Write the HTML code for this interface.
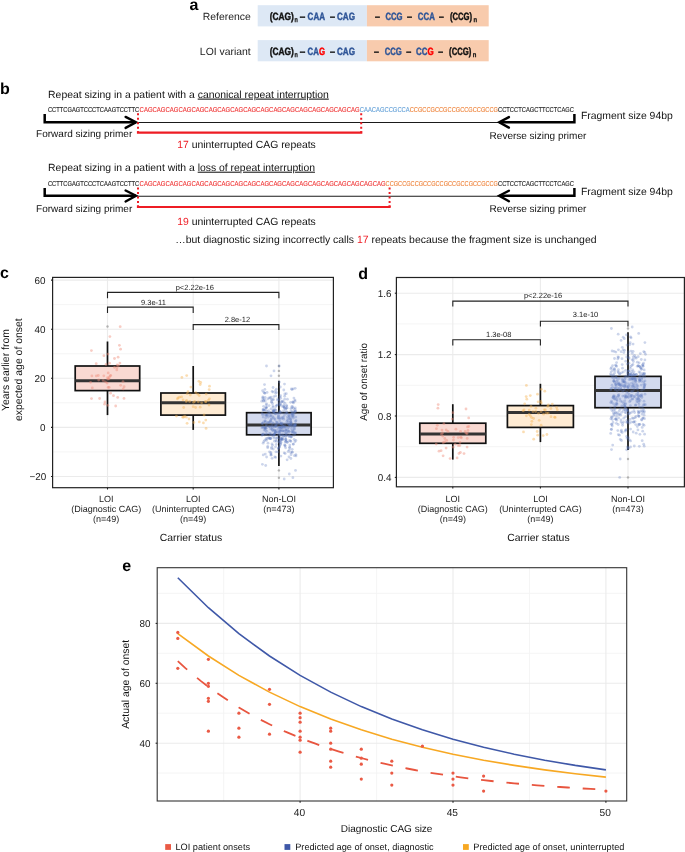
<!DOCTYPE html>
<html><head><meta charset="utf-8"><style>
html,body{margin:0;padding:0;background:#fff;}
svg{display:block;will-change:transform;text-rendering:geometricPrecision;font-family:"Liberation Sans", sans-serif;}
</style></head><body>
<svg width="685" height="852" viewBox="0 0 685 852">
<text x="189.5" y="9.7" font-size="16" fill="#000" text-anchor="start" font-weight="bold">a</text>
<text x="250.7" y="20.0" font-size="10.4" fill="#222" text-anchor="end">Reference</text>
<text x="250.7" y="54.6" font-size="10.4" fill="#222" text-anchor="end">LOI variant</text>
<rect x="257.7" y="5.2" width="109.2" height="21.2" fill="#dde8f5"/>
<rect x="366.9" y="5.2" width="121.8" height="21.2" fill="#f8cbad"/>
<rect x="257.7" y="40.1" width="109.2" height="21.2" fill="#dde8f5"/>
<rect x="366.9" y="40.1" width="121.8" height="21.2" fill="#f8cbad"/>
<text x="269.7" y="20.1" font-size="10.6" fill="#111" text-anchor="start" font-weight="bold" textLength="24.1" lengthAdjust="spacingAndGlyphs" stroke="#111" stroke-width="0.45">(CAG)</text>
<text x="294.6" y="21.900000000000002" font-size="7.0" fill="#111" text-anchor="start" font-weight="bold" textLength="3.3" lengthAdjust="spacingAndGlyphs" stroke="#111" stroke-width="0.25">n</text>
<text x="299.7" y="20.1" font-size="10.6" fill="#111" text-anchor="start" font-weight="bold" textLength="5.5" lengthAdjust="spacingAndGlyphs" stroke="#111" stroke-width="0.45">–</text>
<text x="307.6" y="20.1" font-size="10.6" fill="#2f5597" text-anchor="start" font-weight="bold" textLength="17.4" lengthAdjust="spacingAndGlyphs" stroke="#2f5597" stroke-width="0.45">CAA</text>
<text x="330" y="20.1" font-size="10.6" fill="#111" text-anchor="start" font-weight="bold" textLength="5" lengthAdjust="spacingAndGlyphs" stroke="#111" stroke-width="0.45">–</text>
<text x="337" y="20.1" font-size="10.6" fill="#2f5597" text-anchor="start" font-weight="bold" textLength="18" lengthAdjust="spacingAndGlyphs" stroke="#2f5597" stroke-width="0.45">CAG</text>
<text x="374.9" y="20.1" font-size="10.6" fill="#111" text-anchor="start" font-weight="bold" textLength="4.9" lengthAdjust="spacingAndGlyphs" stroke="#111" stroke-width="0.45">–</text>
<text x="385.5" y="20.1" font-size="10.6" fill="#2f5597" text-anchor="start" font-weight="bold" textLength="17.1" lengthAdjust="spacingAndGlyphs" stroke="#2f5597" stroke-width="0.45">CCG</text>
<text x="407" y="20.1" font-size="10.6" fill="#111" text-anchor="start" font-weight="bold" textLength="5" lengthAdjust="spacingAndGlyphs" stroke="#111" stroke-width="0.45">–</text>
<text x="417.8" y="20.1" font-size="10.6" fill="#2f5597" text-anchor="start" font-weight="bold" textLength="17.0" lengthAdjust="spacingAndGlyphs" stroke="#2f5597" stroke-width="0.45">CCA</text>
<text x="439" y="20.1" font-size="10.6" fill="#111" text-anchor="start" font-weight="bold" textLength="4.8" lengthAdjust="spacingAndGlyphs" stroke="#111" stroke-width="0.45">–</text>
<text x="449.9" y="20.1" font-size="10.6" fill="#111" text-anchor="start" font-weight="bold" textLength="22.2" lengthAdjust="spacingAndGlyphs" stroke="#111" stroke-width="0.45">(CCG)</text>
<text x="473.5" y="21.900000000000002" font-size="7.0" fill="#111" text-anchor="start" font-weight="bold" textLength="3.6" lengthAdjust="spacingAndGlyphs" stroke="#111" stroke-width="0.25">n</text>
<text x="269.7" y="55.0" font-size="10.6" fill="#111" text-anchor="start" font-weight="bold" textLength="24.1" lengthAdjust="spacingAndGlyphs" stroke="#111" stroke-width="0.45">(CAG)</text>
<text x="294.6" y="56.8" font-size="7.0" fill="#111" text-anchor="start" font-weight="bold" textLength="3.3" lengthAdjust="spacingAndGlyphs" stroke="#111" stroke-width="0.25">n</text>
<text x="299.7" y="55.0" font-size="10.6" fill="#111" text-anchor="start" font-weight="bold" textLength="5.5" lengthAdjust="spacingAndGlyphs" stroke="#111" stroke-width="0.45">–</text>
<text x="307.6" y="55.0" font-size="10.6" font-weight="bold" stroke-width="0.45" textLength="17.4" lengthAdjust="spacingAndGlyphs"><tspan fill="#2f5597" stroke="#2f5597">CA</tspan><tspan fill="#ff0000" stroke="#ff0000">G</tspan></text>
<text x="330" y="55.0" font-size="10.6" fill="#111" text-anchor="start" font-weight="bold" textLength="5" lengthAdjust="spacingAndGlyphs" stroke="#111" stroke-width="0.45">–</text>
<text x="337" y="55.0" font-size="10.6" fill="#2f5597" text-anchor="start" font-weight="bold" textLength="18" lengthAdjust="spacingAndGlyphs" stroke="#2f5597" stroke-width="0.45">CAG</text>
<text x="374.09999999999997" y="55.0" font-size="10.6" fill="#111" text-anchor="start" font-weight="bold" textLength="4.9" lengthAdjust="spacingAndGlyphs" stroke="#111" stroke-width="0.45">–</text>
<text x="384.7" y="55.0" font-size="10.6" fill="#2f5597" text-anchor="start" font-weight="bold" textLength="17.1" lengthAdjust="spacingAndGlyphs" stroke="#2f5597" stroke-width="0.45">CCG</text>
<text x="406.2" y="55.0" font-size="10.6" fill="#111" text-anchor="start" font-weight="bold" textLength="5.0" lengthAdjust="spacingAndGlyphs" stroke="#111" stroke-width="0.45">–</text>
<text x="416.0" y="55.0" font-size="10.6" font-weight="bold" stroke-width="0.45" textLength="17.7" lengthAdjust="spacingAndGlyphs"><tspan fill="#2f5597" stroke="#2f5597">CC</tspan><tspan fill="#ff0000" stroke="#ff0000">G</tspan></text>
<text x="438.2" y="55.0" font-size="10.6" fill="#111" text-anchor="start" font-weight="bold" textLength="4.8" lengthAdjust="spacingAndGlyphs" stroke="#111" stroke-width="0.45">–</text>
<text x="449.09999999999997" y="55.0" font-size="10.6" fill="#111" text-anchor="start" font-weight="bold" textLength="22.2" lengthAdjust="spacingAndGlyphs" stroke="#111" stroke-width="0.45">(CCG)</text>
<text x="472.7" y="56.8" font-size="7.0" fill="#111" text-anchor="start" font-weight="bold" textLength="3.6" lengthAdjust="spacingAndGlyphs" stroke="#111" stroke-width="0.25">n</text>
<text x="0" y="93.9" font-size="16" fill="#000" text-anchor="start" font-weight="bold">b</text>
<text x="48.1" y="97.6" font-size="10.4" fill="#111">Repeat sizing in a patient with a <tspan text-decoration="underline">canonical repeat interruption</tspan></text>
<text x="47.9" y="111.9" font-size="7.1" fill="#111" text-anchor="start" textLength="91.3" lengthAdjust="spacingAndGlyphs" stroke="#111" stroke-width="0.08">CCTTCGAGTCCCTCAAGTCCTTC</text>
<text x="139.6" y="111.9" font-size="7.1" fill="#ee2a2a" text-anchor="start" textLength="220.1" lengthAdjust="spacingAndGlyphs" stroke="#ee2a2a" stroke-width="0.08">CAGCAGCAGCAGCAGCAGCAGCAGCAGCAGCAGCAGCAGCAGCAGCAGCAG</text>
<text x="359.8" y="111.9" font-size="7.1" fill="#5b9bd5" text-anchor="start" textLength="49.9" lengthAdjust="spacingAndGlyphs" stroke="#5b9bd5" stroke-width="0.08">CAACAGCCGCCA</text>
<text x="409.7" y="111.9" font-size="7.1" fill="#ed7d31" text-anchor="start" textLength="88.3" lengthAdjust="spacingAndGlyphs" stroke="#ed7d31" stroke-width="0.08">CCGCCGCCGCCGCCGCCGCCG</text>
<text x="498.0" y="111.9" font-size="7.1" fill="#111" text-anchor="start" textLength="76.0" lengthAdjust="spacingAndGlyphs" stroke="#111" stroke-width="0.08">CCTCCTCAGCTTCCTCAGC</text>
<path d="M44.7 113.9 V122.2 H136" fill="none" stroke="#000" stroke-width="2.5" stroke-linejoin="miter"/>
<path d="M125.6 116.9 L136 122.2 L125.6 127.9" fill="none" stroke="#000" stroke-width="2.4" stroke-linecap="round" stroke-linejoin="miter"/>
<line x1="136" y1="122.5" x2="500" y2="122.5" stroke="#1a1a1a" stroke-width="1.05"/>
<path d="M574.4 113.9 V122.2 H499.5" fill="none" stroke="#000" stroke-width="2.5"/>
<path d="M508.9 117.1 L499.2 122.2 L508.9 127.6" fill="none" stroke="#000" stroke-width="2.4" stroke-linecap="round"/>
<line x1="138" y1="113.2" x2="138" y2="132.6" stroke="#ee1c24" stroke-width="2" stroke-dasharray="2 2.5"/>
<line x1="361.2" y1="113.2" x2="361.2" y2="132.6" stroke="#ee1c24" stroke-width="2" stroke-dasharray="2 2.5"/>
<path d="M138 131.2 V132.6 H361.2 V131.2" fill="none" stroke="#ee1c24" stroke-width="2.2"/>
<text x="36.1" y="137.3" font-size="10.0" fill="#111" text-anchor="start">Forward sizing primer</text>
<text x="489.6" y="139.1" font-size="10.0" fill="#111" text-anchor="start">Reverse sizing primer</text>
<text x="580.9" y="119.3" font-size="10.4" fill="#111" text-anchor="start">Fragment size 94bp</text>
<text x="177.2" y="148.3" font-size="10.4" fill="#111"><tspan fill="#ee1c24">17</tspan> uninterrupted CAG repeats</text>
<text x="48.1" y="170.7" font-size="10.4" fill="#111">Repeat sizing in a patient with a <tspan text-decoration="underline">loss of repeat interruption</tspan></text>
<text x="47.9" y="185.60000000000002" font-size="7.1" fill="#111" text-anchor="start" textLength="91.3" lengthAdjust="spacingAndGlyphs" stroke="#111" stroke-width="0.08">CCTTCGAGTCCCTCAAGTCCTTC</text>
<text x="139.6" y="185.60000000000002" font-size="7.1" fill="#ee2a2a" text-anchor="start" textLength="246.0" lengthAdjust="spacingAndGlyphs" stroke="#ee2a2a" stroke-width="0.08">CAGCAGCAGCAGCAGCAGCAGCAGCAGCAGCAGCAGCAGCAGCAGCAGCAGCAGCAG</text>
<text x="385.6" y="185.60000000000002" font-size="7.1" fill="#ed7d31" text-anchor="start" textLength="112.4" lengthAdjust="spacingAndGlyphs" stroke="#ed7d31" stroke-width="0.08">CCGCCGCCGCCGCCGCCGCCGCCGCCG</text>
<text x="498.0" y="185.60000000000002" font-size="7.1" fill="#111" text-anchor="start" textLength="76.0" lengthAdjust="spacingAndGlyphs" stroke="#111" stroke-width="0.08">CCTCCTCAGCTTCCTCAGC</text>
<path d="M44.7 188.0 V195.8 H136" fill="none" stroke="#000" stroke-width="2.5" stroke-linejoin="miter"/>
<path d="M125.6 190.5 L136 195.8 L125.6 201.5" fill="none" stroke="#000" stroke-width="2.4" stroke-linecap="round" stroke-linejoin="miter"/>
<line x1="136" y1="196.3" x2="500" y2="196.3" stroke="#1a1a1a" stroke-width="1.05"/>
<path d="M574.4 188.0 V195.8 H499.5" fill="none" stroke="#000" stroke-width="2.5"/>
<path d="M508.9 190.7 L499.2 195.8 L508.9 201.2" fill="none" stroke="#000" stroke-width="2.4" stroke-linecap="round"/>
<line x1="138" y1="187.6" x2="138" y2="207.0" stroke="#ee1c24" stroke-width="2" stroke-dasharray="2 2.5"/>
<line x1="389.6" y1="187.6" x2="389.6" y2="207.0" stroke="#ee1c24" stroke-width="2" stroke-dasharray="2 2.5"/>
<path d="M138 205.6 V207.0 H389.6 V205.6" fill="none" stroke="#ee1c24" stroke-width="2.2"/>
<text x="36.1" y="211.5" font-size="10.0" fill="#111" text-anchor="start">Forward sizing primer</text>
<text x="489.6" y="212.1" font-size="10.0" fill="#111" text-anchor="start">Reverse sizing primer</text>
<text x="580.9" y="194.8" font-size="10.4" fill="#111" text-anchor="start">Fragment size 94bp</text>
<text x="177.2" y="225.4" font-size="10.4" fill="#111"><tspan fill="#ee1c24">19</tspan> uninterrupted CAG repeats</text>
<text x="175.3" y="242.9" font-size="10.45" fill="#111">…but diagnostic sizing incorrectly calls <tspan fill="#ee1c24">17</tspan> repeats because the fragment size is unchanged</text>
<rect x="52.6" y="277.4" width="280.79999999999995" height="210.3" fill="#fff"/>
<line x1="52.6" x2="333.4" y1="304.6" y2="304.6" stroke="#f4f4f4" stroke-width="0.9"/>
<line x1="52.6" x2="333.4" y1="353.8" y2="353.8" stroke="#f4f4f4" stroke-width="0.9"/>
<line x1="52.6" x2="333.4" y1="402.8" y2="402.8" stroke="#f4f4f4" stroke-width="0.9"/>
<line x1="52.6" x2="333.4" y1="451.9" y2="451.9" stroke="#f4f4f4" stroke-width="0.9"/>
<line x1="52.6" x2="333.4" y1="280.1" y2="280.1" stroke="#ebebeb" stroke-width="1.1"/>
<line x1="52.6" x2="333.4" y1="329.2" y2="329.2" stroke="#ebebeb" stroke-width="1.1"/>
<line x1="52.6" x2="333.4" y1="378.3" y2="378.3" stroke="#ebebeb" stroke-width="1.1"/>
<line x1="52.6" x2="333.4" y1="427.4" y2="427.4" stroke="#ebebeb" stroke-width="1.1"/>
<line x1="52.6" x2="333.4" y1="476.5" y2="476.5" stroke="#ebebeb" stroke-width="1.1"/>
<line x1="107.5" x2="107.5" y1="277.4" y2="487.7" stroke="#ebebeb" stroke-width="1.1"/>
<line x1="193.2" x2="193.2" y1="277.4" y2="487.7" stroke="#ebebeb" stroke-width="1.1"/>
<line x1="278.9" x2="278.9" y1="277.4" y2="487.7" stroke="#ebebeb" stroke-width="1.1"/>
<line x1="107.5" x2="107.5" y1="341.5" y2="415.1" stroke="#111" stroke-width="1.7"/>
<rect x="75.2" y="366.0" width="64.5" height="24.6" fill="#f9d9d2" stroke="#111" stroke-width="1.7"/>
<line x1="75.2" x2="139.8" y1="380.8" y2="380.8" stroke="#333" stroke-width="3"/>
<circle cx="107.5" cy="326.5" r="1.2" fill="#888" fill-opacity="0.6"/>
<line x1="193.2" x2="193.2" y1="366.0" y2="429.9" stroke="#111" stroke-width="1.7"/>
<rect x="160.9" y="393.0" width="64.5" height="22.1" fill="#feebd3" stroke="#111" stroke-width="1.7"/>
<line x1="160.9" x2="225.5" y1="402.8" y2="402.8" stroke="#333" stroke-width="3"/>
<line x1="278.9" x2="278.9" y1="380.8" y2="465.9" stroke="#111" stroke-width="1.7"/>
<rect x="246.6" y="412.7" width="64.5" height="22.1" fill="#d3daee" stroke="#111" stroke-width="1.7"/>
<line x1="246.6" x2="311.2" y1="424.9" y2="424.9" stroke="#333" stroke-width="3"/>
<circle cx="278.9" cy="366.0" r="1.2" fill="#888" fill-opacity="0.6"/>
<circle cx="278.9" cy="370.9" r="1.2" fill="#888" fill-opacity="0.6"/>
<circle cx="278.9" cy="375.8" r="1.2" fill="#888" fill-opacity="0.6"/>
<circle cx="278.9" cy="470.4" r="1.2" fill="#888" fill-opacity="0.6"/>
<circle cx="278.9" cy="477.7" r="1.2" fill="#888" fill-opacity="0.6"/>
<circle cx="120.6" cy="349.2" r="1.4" fill="#ef8e7c" fill-opacity="0.45"/>
<circle cx="119.4" cy="345.3" r="1.4" fill="#ef8e7c" fill-opacity="0.45"/>
<circle cx="107.7" cy="379.1" r="1.4" fill="#ef8e7c" fill-opacity="0.45"/>
<circle cx="110.6" cy="393.2" r="1.4" fill="#ef8e7c" fill-opacity="0.45"/>
<circle cx="91.5" cy="398.6" r="1.4" fill="#ef8e7c" fill-opacity="0.45"/>
<circle cx="98.7" cy="380.0" r="1.4" fill="#ef8e7c" fill-opacity="0.45"/>
<circle cx="117.7" cy="397.4" r="1.4" fill="#ef8e7c" fill-opacity="0.45"/>
<circle cx="104.6" cy="404.2" r="1.4" fill="#ef8e7c" fill-opacity="0.45"/>
<circle cx="96.3" cy="375.9" r="1.4" fill="#ef8e7c" fill-opacity="0.45"/>
<circle cx="109.2" cy="377.5" r="1.4" fill="#ef8e7c" fill-opacity="0.45"/>
<circle cx="114.5" cy="367.4" r="1.4" fill="#ef8e7c" fill-opacity="0.45"/>
<circle cx="113.5" cy="395.7" r="1.4" fill="#ef8e7c" fill-opacity="0.45"/>
<circle cx="103.2" cy="380.6" r="1.4" fill="#ef8e7c" fill-opacity="0.45"/>
<circle cx="105.4" cy="381.8" r="1.4" fill="#ef8e7c" fill-opacity="0.45"/>
<circle cx="107.8" cy="405.3" r="1.4" fill="#ef8e7c" fill-opacity="0.45"/>
<circle cx="117.0" cy="367.6" r="1.4" fill="#ef8e7c" fill-opacity="0.45"/>
<circle cx="108.2" cy="372.9" r="1.4" fill="#ef8e7c" fill-opacity="0.45"/>
<circle cx="103.8" cy="375.8" r="1.4" fill="#ef8e7c" fill-opacity="0.45"/>
<circle cx="107.1" cy="383.1" r="1.4" fill="#ef8e7c" fill-opacity="0.45"/>
<circle cx="91.4" cy="350.6" r="1.4" fill="#ef8e7c" fill-opacity="0.45"/>
<circle cx="91.9" cy="375.9" r="1.4" fill="#ef8e7c" fill-opacity="0.45"/>
<circle cx="114.5" cy="358.5" r="1.4" fill="#ef8e7c" fill-opacity="0.45"/>
<circle cx="124.1" cy="386.7" r="1.4" fill="#ef8e7c" fill-opacity="0.45"/>
<circle cx="110.7" cy="375.4" r="1.4" fill="#ef8e7c" fill-opacity="0.45"/>
<circle cx="103.9" cy="355.7" r="1.4" fill="#ef8e7c" fill-opacity="0.45"/>
<circle cx="96.2" cy="363.7" r="1.4" fill="#ef8e7c" fill-opacity="0.45"/>
<circle cx="107.6" cy="377.6" r="1.4" fill="#ef8e7c" fill-opacity="0.45"/>
<circle cx="124.0" cy="398.4" r="1.4" fill="#ef8e7c" fill-opacity="0.45"/>
<circle cx="116.8" cy="369.9" r="1.4" fill="#ef8e7c" fill-opacity="0.45"/>
<circle cx="108.9" cy="378.9" r="1.4" fill="#ef8e7c" fill-opacity="0.45"/>
<circle cx="119.9" cy="363.1" r="1.4" fill="#ef8e7c" fill-opacity="0.45"/>
<circle cx="98.3" cy="375.5" r="1.4" fill="#ef8e7c" fill-opacity="0.45"/>
<circle cx="108.0" cy="354.1" r="1.4" fill="#ef8e7c" fill-opacity="0.45"/>
<circle cx="123.0" cy="381.6" r="1.4" fill="#ef8e7c" fill-opacity="0.45"/>
<circle cx="110.2" cy="375.8" r="1.4" fill="#ef8e7c" fill-opacity="0.45"/>
<circle cx="106.1" cy="364.4" r="1.4" fill="#ef8e7c" fill-opacity="0.45"/>
<circle cx="99.6" cy="398.5" r="1.4" fill="#ef8e7c" fill-opacity="0.45"/>
<circle cx="109.1" cy="387.3" r="1.4" fill="#ef8e7c" fill-opacity="0.45"/>
<circle cx="123.2" cy="388.9" r="1.4" fill="#ef8e7c" fill-opacity="0.45"/>
<circle cx="90.6" cy="382.3" r="1.4" fill="#ef8e7c" fill-opacity="0.45"/>
<circle cx="117.2" cy="364.8" r="1.4" fill="#ef8e7c" fill-opacity="0.45"/>
<circle cx="118.5" cy="365.6" r="1.4" fill="#ef8e7c" fill-opacity="0.45"/>
<circle cx="120.7" cy="385.3" r="1.4" fill="#ef8e7c" fill-opacity="0.45"/>
<circle cx="115.7" cy="406.0" r="1.4" fill="#ef8e7c" fill-opacity="0.45"/>
<circle cx="118.1" cy="357.2" r="1.4" fill="#ef8e7c" fill-opacity="0.45"/>
<circle cx="108.1" cy="387.4" r="1.4" fill="#ef8e7c" fill-opacity="0.45"/>
<circle cx="109.6" cy="363.2" r="1.4" fill="#ef8e7c" fill-opacity="0.45"/>
<circle cx="105.0" cy="402.0" r="1.4" fill="#ef8e7c" fill-opacity="0.45"/>
<circle cx="92.3" cy="387.9" r="1.4" fill="#ef8e7c" fill-opacity="0.45"/>
<circle cx="120.2" cy="326.7" r="1.4" fill="#ef8e7c" fill-opacity="0.45"/>
<circle cx="109.9" cy="336.6" r="1.4" fill="#ef8e7c" fill-opacity="0.45"/>
<circle cx="200.7" cy="382.4" r="1.4" fill="#f7b454" fill-opacity="0.45"/>
<circle cx="181.6" cy="396.9" r="1.4" fill="#f7b454" fill-opacity="0.45"/>
<circle cx="200.2" cy="384.5" r="1.4" fill="#f7b454" fill-opacity="0.45"/>
<circle cx="199.3" cy="421.9" r="1.4" fill="#f7b454" fill-opacity="0.45"/>
<circle cx="194.7" cy="401.4" r="1.4" fill="#f7b454" fill-opacity="0.45"/>
<circle cx="183.6" cy="417.2" r="1.4" fill="#f7b454" fill-opacity="0.45"/>
<circle cx="209.5" cy="386.2" r="1.4" fill="#f7b454" fill-opacity="0.45"/>
<circle cx="203.4" cy="422.9" r="1.4" fill="#f7b454" fill-opacity="0.45"/>
<circle cx="193.8" cy="422.5" r="1.4" fill="#f7b454" fill-opacity="0.45"/>
<circle cx="183.7" cy="407.5" r="1.4" fill="#f7b454" fill-opacity="0.45"/>
<circle cx="198.3" cy="401.8" r="1.4" fill="#f7b454" fill-opacity="0.45"/>
<circle cx="189.6" cy="401.5" r="1.4" fill="#f7b454" fill-opacity="0.45"/>
<circle cx="195.8" cy="392.7" r="1.4" fill="#f7b454" fill-opacity="0.45"/>
<circle cx="187.1" cy="423.3" r="1.4" fill="#f7b454" fill-opacity="0.45"/>
<circle cx="197.7" cy="394.1" r="1.4" fill="#f7b454" fill-opacity="0.45"/>
<circle cx="178.1" cy="397.8" r="1.4" fill="#f7b454" fill-opacity="0.45"/>
<circle cx="186.3" cy="417.2" r="1.4" fill="#f7b454" fill-opacity="0.45"/>
<circle cx="209.2" cy="389.6" r="1.4" fill="#f7b454" fill-opacity="0.45"/>
<circle cx="206.1" cy="428.4" r="1.4" fill="#f7b454" fill-opacity="0.45"/>
<circle cx="186.6" cy="400.3" r="1.4" fill="#f7b454" fill-opacity="0.45"/>
<circle cx="205.5" cy="401.4" r="1.4" fill="#f7b454" fill-opacity="0.45"/>
<circle cx="186.7" cy="375.6" r="1.4" fill="#f7b454" fill-opacity="0.45"/>
<circle cx="208.3" cy="400.3" r="1.4" fill="#f7b454" fill-opacity="0.45"/>
<circle cx="201.6" cy="402.8" r="1.4" fill="#f7b454" fill-opacity="0.45"/>
<circle cx="190.3" cy="395.0" r="1.4" fill="#f7b454" fill-opacity="0.45"/>
<circle cx="184.7" cy="416.1" r="1.4" fill="#f7b454" fill-opacity="0.45"/>
<circle cx="176.4" cy="416.1" r="1.4" fill="#f7b454" fill-opacity="0.45"/>
<circle cx="206.2" cy="394.1" r="1.4" fill="#f7b454" fill-opacity="0.45"/>
<circle cx="177.4" cy="398.8" r="1.4" fill="#f7b454" fill-opacity="0.45"/>
<circle cx="204.1" cy="415.0" r="1.4" fill="#f7b454" fill-opacity="0.45"/>
<circle cx="209.0" cy="405.0" r="1.4" fill="#f7b454" fill-opacity="0.45"/>
<circle cx="195.6" cy="407.5" r="1.4" fill="#f7b454" fill-opacity="0.45"/>
<circle cx="181.9" cy="377.4" r="1.4" fill="#f7b454" fill-opacity="0.45"/>
<circle cx="205.8" cy="420.1" r="1.4" fill="#f7b454" fill-opacity="0.45"/>
<circle cx="209.4" cy="398.8" r="1.4" fill="#f7b454" fill-opacity="0.45"/>
<circle cx="200.2" cy="407.2" r="1.4" fill="#f7b454" fill-opacity="0.45"/>
<circle cx="193.5" cy="402.3" r="1.4" fill="#f7b454" fill-opacity="0.45"/>
<circle cx="189.0" cy="419.0" r="1.4" fill="#f7b454" fill-opacity="0.45"/>
<circle cx="188.0" cy="391.7" r="1.4" fill="#f7b454" fill-opacity="0.45"/>
<circle cx="183.1" cy="399.9" r="1.4" fill="#f7b454" fill-opacity="0.45"/>
<circle cx="199.2" cy="395.6" r="1.4" fill="#f7b454" fill-opacity="0.45"/>
<circle cx="190.9" cy="387.1" r="1.4" fill="#f7b454" fill-opacity="0.45"/>
<circle cx="182.7" cy="417.2" r="1.4" fill="#f7b454" fill-opacity="0.45"/>
<circle cx="179.6" cy="397.2" r="1.4" fill="#f7b454" fill-opacity="0.45"/>
<circle cx="198.9" cy="381.3" r="1.4" fill="#f7b454" fill-opacity="0.45"/>
<circle cx="186.2" cy="401.5" r="1.4" fill="#f7b454" fill-opacity="0.45"/>
<circle cx="193.2" cy="406.7" r="1.4" fill="#f7b454" fill-opacity="0.45"/>
<circle cx="187.2" cy="393.7" r="1.4" fill="#f7b454" fill-opacity="0.45"/>
<circle cx="205.9" cy="401.8" r="1.4" fill="#f7b454" fill-opacity="0.45"/>
<circle cx="290.6" cy="421.8" r="1.4" fill="#5a78c0" fill-opacity="0.31"/>
<circle cx="263.2" cy="426.8" r="1.4" fill="#5a78c0" fill-opacity="0.31"/>
<circle cx="271.1" cy="419.4" r="1.4" fill="#5a78c0" fill-opacity="0.31"/>
<circle cx="265.8" cy="407.6" r="1.4" fill="#5a78c0" fill-opacity="0.31"/>
<circle cx="264.9" cy="389.4" r="1.4" fill="#5a78c0" fill-opacity="0.31"/>
<circle cx="262.7" cy="427.3" r="1.4" fill="#5a78c0" fill-opacity="0.31"/>
<circle cx="283.6" cy="430.9" r="1.4" fill="#5a78c0" fill-opacity="0.31"/>
<circle cx="287.3" cy="413.0" r="1.4" fill="#5a78c0" fill-opacity="0.31"/>
<circle cx="285.3" cy="439.2" r="1.4" fill="#5a78c0" fill-opacity="0.31"/>
<circle cx="290.7" cy="452.6" r="1.4" fill="#5a78c0" fill-opacity="0.31"/>
<circle cx="284.5" cy="407.9" r="1.4" fill="#5a78c0" fill-opacity="0.31"/>
<circle cx="275.1" cy="431.1" r="1.4" fill="#5a78c0" fill-opacity="0.31"/>
<circle cx="283.4" cy="402.0" r="1.4" fill="#5a78c0" fill-opacity="0.31"/>
<circle cx="295.0" cy="441.7" r="1.4" fill="#5a78c0" fill-opacity="0.31"/>
<circle cx="283.8" cy="419.2" r="1.4" fill="#5a78c0" fill-opacity="0.31"/>
<circle cx="270.1" cy="421.8" r="1.4" fill="#5a78c0" fill-opacity="0.31"/>
<circle cx="263.8" cy="392.3" r="1.4" fill="#5a78c0" fill-opacity="0.31"/>
<circle cx="293.8" cy="414.2" r="1.4" fill="#5a78c0" fill-opacity="0.31"/>
<circle cx="282.0" cy="418.6" r="1.4" fill="#5a78c0" fill-opacity="0.31"/>
<circle cx="273.7" cy="413.0" r="1.4" fill="#5a78c0" fill-opacity="0.31"/>
<circle cx="282.5" cy="430.9" r="1.4" fill="#5a78c0" fill-opacity="0.31"/>
<circle cx="281.0" cy="423.4" r="1.4" fill="#5a78c0" fill-opacity="0.31"/>
<circle cx="279.7" cy="447.0" r="1.4" fill="#5a78c0" fill-opacity="0.31"/>
<circle cx="263.8" cy="414.4" r="1.4" fill="#5a78c0" fill-opacity="0.31"/>
<circle cx="273.9" cy="438.1" r="1.4" fill="#5a78c0" fill-opacity="0.31"/>
<circle cx="275.9" cy="432.2" r="1.4" fill="#5a78c0" fill-opacity="0.31"/>
<circle cx="268.6" cy="410.7" r="1.4" fill="#5a78c0" fill-opacity="0.31"/>
<circle cx="291.9" cy="406.3" r="1.4" fill="#5a78c0" fill-opacity="0.31"/>
<circle cx="276.3" cy="441.4" r="1.4" fill="#5a78c0" fill-opacity="0.31"/>
<circle cx="284.5" cy="384.1" r="1.4" fill="#5a78c0" fill-opacity="0.31"/>
<circle cx="286.2" cy="434.6" r="1.4" fill="#5a78c0" fill-opacity="0.31"/>
<circle cx="287.2" cy="407.9" r="1.4" fill="#5a78c0" fill-opacity="0.31"/>
<circle cx="286.5" cy="405.6" r="1.4" fill="#5a78c0" fill-opacity="0.31"/>
<circle cx="287.5" cy="420.4" r="1.4" fill="#5a78c0" fill-opacity="0.31"/>
<circle cx="270.4" cy="421.4" r="1.4" fill="#5a78c0" fill-opacity="0.31"/>
<circle cx="295.2" cy="388.3" r="1.4" fill="#5a78c0" fill-opacity="0.31"/>
<circle cx="266.9" cy="406.8" r="1.4" fill="#5a78c0" fill-opacity="0.31"/>
<circle cx="293.3" cy="415.9" r="1.4" fill="#5a78c0" fill-opacity="0.31"/>
<circle cx="291.1" cy="454.7" r="1.4" fill="#5a78c0" fill-opacity="0.31"/>
<circle cx="291.0" cy="437.1" r="1.4" fill="#5a78c0" fill-opacity="0.31"/>
<circle cx="263.6" cy="401.2" r="1.4" fill="#5a78c0" fill-opacity="0.31"/>
<circle cx="264.9" cy="421.0" r="1.4" fill="#5a78c0" fill-opacity="0.31"/>
<circle cx="289.6" cy="440.5" r="1.4" fill="#5a78c0" fill-opacity="0.31"/>
<circle cx="277.8" cy="435.4" r="1.4" fill="#5a78c0" fill-opacity="0.31"/>
<circle cx="274.5" cy="429.9" r="1.4" fill="#5a78c0" fill-opacity="0.31"/>
<circle cx="295.5" cy="411.0" r="1.4" fill="#5a78c0" fill-opacity="0.31"/>
<circle cx="263.1" cy="417.1" r="1.4" fill="#5a78c0" fill-opacity="0.31"/>
<circle cx="280.0" cy="404.6" r="1.4" fill="#5a78c0" fill-opacity="0.31"/>
<circle cx="277.0" cy="438.3" r="1.4" fill="#5a78c0" fill-opacity="0.31"/>
<circle cx="266.2" cy="404.8" r="1.4" fill="#5a78c0" fill-opacity="0.31"/>
<circle cx="275.3" cy="433.1" r="1.4" fill="#5a78c0" fill-opacity="0.31"/>
<circle cx="286.0" cy="429.8" r="1.4" fill="#5a78c0" fill-opacity="0.31"/>
<circle cx="292.0" cy="389.6" r="1.4" fill="#5a78c0" fill-opacity="0.31"/>
<circle cx="262.6" cy="423.4" r="1.4" fill="#5a78c0" fill-opacity="0.31"/>
<circle cx="279.7" cy="427.2" r="1.4" fill="#5a78c0" fill-opacity="0.31"/>
<circle cx="264.9" cy="428.4" r="1.4" fill="#5a78c0" fill-opacity="0.31"/>
<circle cx="289.2" cy="431.2" r="1.4" fill="#5a78c0" fill-opacity="0.31"/>
<circle cx="264.7" cy="393.2" r="1.4" fill="#5a78c0" fill-opacity="0.31"/>
<circle cx="262.9" cy="396.9" r="1.4" fill="#5a78c0" fill-opacity="0.31"/>
<circle cx="274.9" cy="410.3" r="1.4" fill="#5a78c0" fill-opacity="0.31"/>
<circle cx="286.9" cy="421.2" r="1.4" fill="#5a78c0" fill-opacity="0.31"/>
<circle cx="272.5" cy="403.7" r="1.4" fill="#5a78c0" fill-opacity="0.31"/>
<circle cx="266.2" cy="426.2" r="1.4" fill="#5a78c0" fill-opacity="0.31"/>
<circle cx="289.0" cy="415.7" r="1.4" fill="#5a78c0" fill-opacity="0.31"/>
<circle cx="289.4" cy="416.8" r="1.4" fill="#5a78c0" fill-opacity="0.31"/>
<circle cx="291.1" cy="423.1" r="1.4" fill="#5a78c0" fill-opacity="0.31"/>
<circle cx="272.2" cy="391.3" r="1.4" fill="#5a78c0" fill-opacity="0.31"/>
<circle cx="276.3" cy="389.2" r="1.4" fill="#5a78c0" fill-opacity="0.31"/>
<circle cx="270.2" cy="398.0" r="1.4" fill="#5a78c0" fill-opacity="0.31"/>
<circle cx="280.9" cy="456.1" r="1.4" fill="#5a78c0" fill-opacity="0.31"/>
<circle cx="273.1" cy="387.5" r="1.4" fill="#5a78c0" fill-opacity="0.31"/>
<circle cx="273.4" cy="410.6" r="1.4" fill="#5a78c0" fill-opacity="0.31"/>
<circle cx="288.6" cy="432.3" r="1.4" fill="#5a78c0" fill-opacity="0.31"/>
<circle cx="294.5" cy="425.3" r="1.4" fill="#5a78c0" fill-opacity="0.31"/>
<circle cx="281.8" cy="401.7" r="1.4" fill="#5a78c0" fill-opacity="0.31"/>
<circle cx="265.3" cy="401.0" r="1.4" fill="#5a78c0" fill-opacity="0.31"/>
<circle cx="284.1" cy="407.5" r="1.4" fill="#5a78c0" fill-opacity="0.31"/>
<circle cx="277.1" cy="422.1" r="1.4" fill="#5a78c0" fill-opacity="0.31"/>
<circle cx="295.6" cy="424.2" r="1.4" fill="#5a78c0" fill-opacity="0.31"/>
<circle cx="286.4" cy="408.0" r="1.4" fill="#5a78c0" fill-opacity="0.31"/>
<circle cx="290.4" cy="426.4" r="1.4" fill="#5a78c0" fill-opacity="0.31"/>
<circle cx="285.8" cy="439.6" r="1.4" fill="#5a78c0" fill-opacity="0.31"/>
<circle cx="280.1" cy="435.1" r="1.4" fill="#5a78c0" fill-opacity="0.31"/>
<circle cx="292.5" cy="427.2" r="1.4" fill="#5a78c0" fill-opacity="0.31"/>
<circle cx="290.3" cy="418.2" r="1.4" fill="#5a78c0" fill-opacity="0.31"/>
<circle cx="271.7" cy="447.3" r="1.4" fill="#5a78c0" fill-opacity="0.31"/>
<circle cx="267.1" cy="415.2" r="1.4" fill="#5a78c0" fill-opacity="0.31"/>
<circle cx="274.5" cy="426.4" r="1.4" fill="#5a78c0" fill-opacity="0.31"/>
<circle cx="279.6" cy="418.8" r="1.4" fill="#5a78c0" fill-opacity="0.31"/>
<circle cx="265.1" cy="397.3" r="1.4" fill="#5a78c0" fill-opacity="0.31"/>
<circle cx="273.6" cy="399.6" r="1.4" fill="#5a78c0" fill-opacity="0.31"/>
<circle cx="281.5" cy="427.5" r="1.4" fill="#5a78c0" fill-opacity="0.31"/>
<circle cx="263.3" cy="434.0" r="1.4" fill="#5a78c0" fill-opacity="0.31"/>
<circle cx="289.7" cy="447.2" r="1.4" fill="#5a78c0" fill-opacity="0.31"/>
<circle cx="284.1" cy="426.1" r="1.4" fill="#5a78c0" fill-opacity="0.31"/>
<circle cx="272.5" cy="399.5" r="1.4" fill="#5a78c0" fill-opacity="0.31"/>
<circle cx="272.0" cy="429.3" r="1.4" fill="#5a78c0" fill-opacity="0.31"/>
<circle cx="273.8" cy="410.6" r="1.4" fill="#5a78c0" fill-opacity="0.31"/>
<circle cx="272.9" cy="410.5" r="1.4" fill="#5a78c0" fill-opacity="0.31"/>
<circle cx="287.4" cy="416.8" r="1.4" fill="#5a78c0" fill-opacity="0.31"/>
<circle cx="278.9" cy="402.8" r="1.4" fill="#5a78c0" fill-opacity="0.31"/>
<circle cx="279.8" cy="426.8" r="1.4" fill="#5a78c0" fill-opacity="0.31"/>
<circle cx="266.9" cy="438.5" r="1.4" fill="#5a78c0" fill-opacity="0.31"/>
<circle cx="293.1" cy="444.1" r="1.4" fill="#5a78c0" fill-opacity="0.31"/>
<circle cx="272.9" cy="406.1" r="1.4" fill="#5a78c0" fill-opacity="0.31"/>
<circle cx="273.0" cy="430.8" r="1.4" fill="#5a78c0" fill-opacity="0.31"/>
<circle cx="264.1" cy="430.0" r="1.4" fill="#5a78c0" fill-opacity="0.31"/>
<circle cx="295.3" cy="407.9" r="1.4" fill="#5a78c0" fill-opacity="0.31"/>
<circle cx="278.2" cy="437.8" r="1.4" fill="#5a78c0" fill-opacity="0.31"/>
<circle cx="293.1" cy="388.9" r="1.4" fill="#5a78c0" fill-opacity="0.31"/>
<circle cx="293.6" cy="411.4" r="1.4" fill="#5a78c0" fill-opacity="0.31"/>
<circle cx="295.0" cy="433.5" r="1.4" fill="#5a78c0" fill-opacity="0.31"/>
<circle cx="289.7" cy="435.3" r="1.4" fill="#5a78c0" fill-opacity="0.31"/>
<circle cx="293.5" cy="402.9" r="1.4" fill="#5a78c0" fill-opacity="0.31"/>
<circle cx="293.4" cy="444.2" r="1.4" fill="#5a78c0" fill-opacity="0.31"/>
<circle cx="289.2" cy="435.4" r="1.4" fill="#5a78c0" fill-opacity="0.31"/>
<circle cx="266.4" cy="424.8" r="1.4" fill="#5a78c0" fill-opacity="0.31"/>
<circle cx="279.7" cy="420.8" r="1.4" fill="#5a78c0" fill-opacity="0.31"/>
<circle cx="281.5" cy="424.6" r="1.4" fill="#5a78c0" fill-opacity="0.31"/>
<circle cx="295.8" cy="417.1" r="1.4" fill="#5a78c0" fill-opacity="0.31"/>
<circle cx="288.6" cy="430.9" r="1.4" fill="#5a78c0" fill-opacity="0.31"/>
<circle cx="285.9" cy="426.9" r="1.4" fill="#5a78c0" fill-opacity="0.31"/>
<circle cx="287.4" cy="399.2" r="1.4" fill="#5a78c0" fill-opacity="0.31"/>
<circle cx="274.2" cy="411.8" r="1.4" fill="#5a78c0" fill-opacity="0.31"/>
<circle cx="294.1" cy="432.3" r="1.4" fill="#5a78c0" fill-opacity="0.31"/>
<circle cx="283.8" cy="390.0" r="1.4" fill="#5a78c0" fill-opacity="0.31"/>
<circle cx="275.6" cy="457.4" r="1.4" fill="#5a78c0" fill-opacity="0.31"/>
<circle cx="277.7" cy="423.2" r="1.4" fill="#5a78c0" fill-opacity="0.31"/>
<circle cx="295.3" cy="411.3" r="1.4" fill="#5a78c0" fill-opacity="0.31"/>
<circle cx="280.0" cy="405.1" r="1.4" fill="#5a78c0" fill-opacity="0.31"/>
<circle cx="267.5" cy="422.7" r="1.4" fill="#5a78c0" fill-opacity="0.31"/>
<circle cx="266.8" cy="431.2" r="1.4" fill="#5a78c0" fill-opacity="0.31"/>
<circle cx="285.3" cy="413.0" r="1.4" fill="#5a78c0" fill-opacity="0.31"/>
<circle cx="281.1" cy="428.1" r="1.4" fill="#5a78c0" fill-opacity="0.31"/>
<circle cx="292.8" cy="415.3" r="1.4" fill="#5a78c0" fill-opacity="0.31"/>
<circle cx="268.1" cy="417.2" r="1.4" fill="#5a78c0" fill-opacity="0.31"/>
<circle cx="275.9" cy="437.8" r="1.4" fill="#5a78c0" fill-opacity="0.31"/>
<circle cx="286.7" cy="405.8" r="1.4" fill="#5a78c0" fill-opacity="0.31"/>
<circle cx="263.5" cy="409.7" r="1.4" fill="#5a78c0" fill-opacity="0.31"/>
<circle cx="265.2" cy="410.1" r="1.4" fill="#5a78c0" fill-opacity="0.31"/>
<circle cx="280.5" cy="431.5" r="1.4" fill="#5a78c0" fill-opacity="0.31"/>
<circle cx="270.9" cy="416.1" r="1.4" fill="#5a78c0" fill-opacity="0.31"/>
<circle cx="265.4" cy="430.5" r="1.4" fill="#5a78c0" fill-opacity="0.31"/>
<circle cx="270.7" cy="420.6" r="1.4" fill="#5a78c0" fill-opacity="0.31"/>
<circle cx="283.4" cy="427.2" r="1.4" fill="#5a78c0" fill-opacity="0.31"/>
<circle cx="279.8" cy="439.2" r="1.4" fill="#5a78c0" fill-opacity="0.31"/>
<circle cx="264.5" cy="384.6" r="1.4" fill="#5a78c0" fill-opacity="0.31"/>
<circle cx="264.3" cy="410.2" r="1.4" fill="#5a78c0" fill-opacity="0.31"/>
<circle cx="290.9" cy="458.5" r="1.4" fill="#5a78c0" fill-opacity="0.31"/>
<circle cx="283.8" cy="406.7" r="1.4" fill="#5a78c0" fill-opacity="0.31"/>
<circle cx="267.7" cy="447.7" r="1.4" fill="#5a78c0" fill-opacity="0.31"/>
<circle cx="291.3" cy="428.7" r="1.4" fill="#5a78c0" fill-opacity="0.31"/>
<circle cx="262.5" cy="434.4" r="1.4" fill="#5a78c0" fill-opacity="0.31"/>
<circle cx="274.4" cy="433.7" r="1.4" fill="#5a78c0" fill-opacity="0.31"/>
<circle cx="290.8" cy="420.0" r="1.4" fill="#5a78c0" fill-opacity="0.31"/>
<circle cx="286.1" cy="430.3" r="1.4" fill="#5a78c0" fill-opacity="0.31"/>
<circle cx="271.5" cy="448.6" r="1.4" fill="#5a78c0" fill-opacity="0.31"/>
<circle cx="292.3" cy="425.0" r="1.4" fill="#5a78c0" fill-opacity="0.31"/>
<circle cx="282.3" cy="417.5" r="1.4" fill="#5a78c0" fill-opacity="0.31"/>
<circle cx="291.4" cy="388.9" r="1.4" fill="#5a78c0" fill-opacity="0.31"/>
<circle cx="292.4" cy="431.7" r="1.4" fill="#5a78c0" fill-opacity="0.31"/>
<circle cx="276.3" cy="444.3" r="1.4" fill="#5a78c0" fill-opacity="0.31"/>
<circle cx="284.9" cy="431.1" r="1.4" fill="#5a78c0" fill-opacity="0.31"/>
<circle cx="280.4" cy="411.6" r="1.4" fill="#5a78c0" fill-opacity="0.31"/>
<circle cx="294.1" cy="439.4" r="1.4" fill="#5a78c0" fill-opacity="0.31"/>
<circle cx="289.1" cy="436.7" r="1.4" fill="#5a78c0" fill-opacity="0.31"/>
<circle cx="286.6" cy="413.6" r="1.4" fill="#5a78c0" fill-opacity="0.31"/>
<circle cx="289.7" cy="425.1" r="1.4" fill="#5a78c0" fill-opacity="0.31"/>
<circle cx="296.0" cy="420.4" r="1.4" fill="#5a78c0" fill-opacity="0.31"/>
<circle cx="270.6" cy="435.2" r="1.4" fill="#5a78c0" fill-opacity="0.31"/>
<circle cx="268.7" cy="438.4" r="1.4" fill="#5a78c0" fill-opacity="0.31"/>
<circle cx="287.4" cy="430.2" r="1.4" fill="#5a78c0" fill-opacity="0.31"/>
<circle cx="288.2" cy="427.5" r="1.4" fill="#5a78c0" fill-opacity="0.31"/>
<circle cx="279.4" cy="430.4" r="1.4" fill="#5a78c0" fill-opacity="0.31"/>
<circle cx="278.5" cy="416.2" r="1.4" fill="#5a78c0" fill-opacity="0.31"/>
<circle cx="275.6" cy="413.8" r="1.4" fill="#5a78c0" fill-opacity="0.31"/>
<circle cx="292.0" cy="413.8" r="1.4" fill="#5a78c0" fill-opacity="0.31"/>
<circle cx="289.1" cy="415.2" r="1.4" fill="#5a78c0" fill-opacity="0.31"/>
<circle cx="281.8" cy="439.4" r="1.4" fill="#5a78c0" fill-opacity="0.31"/>
<circle cx="263.1" cy="443.2" r="1.4" fill="#5a78c0" fill-opacity="0.31"/>
<circle cx="290.9" cy="408.6" r="1.4" fill="#5a78c0" fill-opacity="0.31"/>
<circle cx="277.5" cy="424.7" r="1.4" fill="#5a78c0" fill-opacity="0.31"/>
<circle cx="268.3" cy="422.5" r="1.4" fill="#5a78c0" fill-opacity="0.31"/>
<circle cx="272.0" cy="443.9" r="1.4" fill="#5a78c0" fill-opacity="0.31"/>
<circle cx="285.5" cy="428.4" r="1.4" fill="#5a78c0" fill-opacity="0.31"/>
<circle cx="261.9" cy="435.3" r="1.4" fill="#5a78c0" fill-opacity="0.31"/>
<circle cx="265.9" cy="439.0" r="1.4" fill="#5a78c0" fill-opacity="0.31"/>
<circle cx="272.1" cy="435.2" r="1.4" fill="#5a78c0" fill-opacity="0.31"/>
<circle cx="292.2" cy="449.3" r="1.4" fill="#5a78c0" fill-opacity="0.31"/>
<circle cx="287.4" cy="423.2" r="1.4" fill="#5a78c0" fill-opacity="0.31"/>
<circle cx="295.0" cy="401.2" r="1.4" fill="#5a78c0" fill-opacity="0.31"/>
<circle cx="280.4" cy="436.5" r="1.4" fill="#5a78c0" fill-opacity="0.31"/>
<circle cx="281.4" cy="423.0" r="1.4" fill="#5a78c0" fill-opacity="0.31"/>
<circle cx="280.7" cy="442.8" r="1.4" fill="#5a78c0" fill-opacity="0.31"/>
<circle cx="279.8" cy="411.3" r="1.4" fill="#5a78c0" fill-opacity="0.31"/>
<circle cx="280.3" cy="387.0" r="1.4" fill="#5a78c0" fill-opacity="0.31"/>
<circle cx="289.8" cy="445.1" r="1.4" fill="#5a78c0" fill-opacity="0.31"/>
<circle cx="294.4" cy="428.7" r="1.4" fill="#5a78c0" fill-opacity="0.31"/>
<circle cx="275.8" cy="395.9" r="1.4" fill="#5a78c0" fill-opacity="0.31"/>
<circle cx="283.4" cy="417.4" r="1.4" fill="#5a78c0" fill-opacity="0.31"/>
<circle cx="272.3" cy="422.6" r="1.4" fill="#5a78c0" fill-opacity="0.31"/>
<circle cx="272.1" cy="458.3" r="1.4" fill="#5a78c0" fill-opacity="0.31"/>
<circle cx="279.1" cy="427.4" r="1.4" fill="#5a78c0" fill-opacity="0.31"/>
<circle cx="281.9" cy="406.2" r="1.4" fill="#5a78c0" fill-opacity="0.31"/>
<circle cx="280.6" cy="395.7" r="1.4" fill="#5a78c0" fill-opacity="0.31"/>
<circle cx="295.2" cy="411.9" r="1.4" fill="#5a78c0" fill-opacity="0.31"/>
<circle cx="267.3" cy="434.4" r="1.4" fill="#5a78c0" fill-opacity="0.31"/>
<circle cx="283.6" cy="436.1" r="1.4" fill="#5a78c0" fill-opacity="0.31"/>
<circle cx="295.9" cy="454.6" r="1.4" fill="#5a78c0" fill-opacity="0.31"/>
<circle cx="287.0" cy="442.5" r="1.4" fill="#5a78c0" fill-opacity="0.31"/>
<circle cx="281.2" cy="402.1" r="1.4" fill="#5a78c0" fill-opacity="0.31"/>
<circle cx="274.4" cy="426.8" r="1.4" fill="#5a78c0" fill-opacity="0.31"/>
<circle cx="275.5" cy="446.8" r="1.4" fill="#5a78c0" fill-opacity="0.31"/>
<circle cx="293.9" cy="398.1" r="1.4" fill="#5a78c0" fill-opacity="0.31"/>
<circle cx="292.5" cy="452.2" r="1.4" fill="#5a78c0" fill-opacity="0.31"/>
<circle cx="284.7" cy="399.2" r="1.4" fill="#5a78c0" fill-opacity="0.31"/>
<circle cx="292.6" cy="430.2" r="1.4" fill="#5a78c0" fill-opacity="0.31"/>
<circle cx="293.5" cy="418.0" r="1.4" fill="#5a78c0" fill-opacity="0.31"/>
<circle cx="290.8" cy="411.1" r="1.4" fill="#5a78c0" fill-opacity="0.31"/>
<circle cx="274.9" cy="419.6" r="1.4" fill="#5a78c0" fill-opacity="0.31"/>
<circle cx="277.7" cy="399.0" r="1.4" fill="#5a78c0" fill-opacity="0.31"/>
<circle cx="289.0" cy="424.6" r="1.4" fill="#5a78c0" fill-opacity="0.31"/>
<circle cx="274.5" cy="430.3" r="1.4" fill="#5a78c0" fill-opacity="0.31"/>
<circle cx="287.4" cy="435.7" r="1.4" fill="#5a78c0" fill-opacity="0.31"/>
<circle cx="278.3" cy="448.5" r="1.4" fill="#5a78c0" fill-opacity="0.31"/>
<circle cx="273.3" cy="436.3" r="1.4" fill="#5a78c0" fill-opacity="0.31"/>
<circle cx="277.4" cy="404.9" r="1.4" fill="#5a78c0" fill-opacity="0.31"/>
<circle cx="265.8" cy="408.1" r="1.4" fill="#5a78c0" fill-opacity="0.31"/>
<circle cx="273.9" cy="396.6" r="1.4" fill="#5a78c0" fill-opacity="0.31"/>
<circle cx="276.0" cy="410.4" r="1.4" fill="#5a78c0" fill-opacity="0.31"/>
<circle cx="262.4" cy="414.7" r="1.4" fill="#5a78c0" fill-opacity="0.31"/>
<circle cx="267.7" cy="446.4" r="1.4" fill="#5a78c0" fill-opacity="0.31"/>
<circle cx="270.7" cy="428.9" r="1.4" fill="#5a78c0" fill-opacity="0.31"/>
<circle cx="291.2" cy="414.1" r="1.4" fill="#5a78c0" fill-opacity="0.31"/>
<circle cx="282.0" cy="427.2" r="1.4" fill="#5a78c0" fill-opacity="0.31"/>
<circle cx="271.6" cy="418.6" r="1.4" fill="#5a78c0" fill-opacity="0.31"/>
<circle cx="296.0" cy="455.9" r="1.4" fill="#5a78c0" fill-opacity="0.31"/>
<circle cx="270.6" cy="438.5" r="1.4" fill="#5a78c0" fill-opacity="0.31"/>
<circle cx="279.4" cy="446.3" r="1.4" fill="#5a78c0" fill-opacity="0.31"/>
<circle cx="287.1" cy="459.8" r="1.4" fill="#5a78c0" fill-opacity="0.31"/>
<circle cx="285.5" cy="409.3" r="1.4" fill="#5a78c0" fill-opacity="0.31"/>
<circle cx="276.6" cy="405.3" r="1.4" fill="#5a78c0" fill-opacity="0.31"/>
<circle cx="288.4" cy="427.8" r="1.4" fill="#5a78c0" fill-opacity="0.31"/>
<circle cx="278.4" cy="417.9" r="1.4" fill="#5a78c0" fill-opacity="0.31"/>
<circle cx="286.3" cy="441.4" r="1.4" fill="#5a78c0" fill-opacity="0.31"/>
<circle cx="278.6" cy="415.7" r="1.4" fill="#5a78c0" fill-opacity="0.31"/>
<circle cx="295.1" cy="409.4" r="1.4" fill="#5a78c0" fill-opacity="0.31"/>
<circle cx="286.3" cy="393.7" r="1.4" fill="#5a78c0" fill-opacity="0.31"/>
<circle cx="264.9" cy="393.1" r="1.4" fill="#5a78c0" fill-opacity="0.31"/>
<circle cx="266.2" cy="415.0" r="1.4" fill="#5a78c0" fill-opacity="0.31"/>
<circle cx="294.9" cy="427.0" r="1.4" fill="#5a78c0" fill-opacity="0.31"/>
<circle cx="269.6" cy="438.4" r="1.4" fill="#5a78c0" fill-opacity="0.31"/>
<circle cx="262.7" cy="434.8" r="1.4" fill="#5a78c0" fill-opacity="0.31"/>
<circle cx="270.4" cy="412.4" r="1.4" fill="#5a78c0" fill-opacity="0.31"/>
<circle cx="278.2" cy="413.4" r="1.4" fill="#5a78c0" fill-opacity="0.31"/>
<circle cx="294.4" cy="424.6" r="1.4" fill="#5a78c0" fill-opacity="0.31"/>
<circle cx="275.4" cy="391.0" r="1.4" fill="#5a78c0" fill-opacity="0.31"/>
<circle cx="286.6" cy="411.7" r="1.4" fill="#5a78c0" fill-opacity="0.31"/>
<circle cx="290.4" cy="424.6" r="1.4" fill="#5a78c0" fill-opacity="0.31"/>
<circle cx="264.8" cy="428.1" r="1.4" fill="#5a78c0" fill-opacity="0.31"/>
<circle cx="282.7" cy="423.4" r="1.4" fill="#5a78c0" fill-opacity="0.31"/>
<circle cx="295.9" cy="440.4" r="1.4" fill="#5a78c0" fill-opacity="0.31"/>
<circle cx="280.6" cy="440.9" r="1.4" fill="#5a78c0" fill-opacity="0.31"/>
<circle cx="280.1" cy="417.9" r="1.4" fill="#5a78c0" fill-opacity="0.31"/>
<circle cx="273.6" cy="434.5" r="1.4" fill="#5a78c0" fill-opacity="0.31"/>
<circle cx="294.2" cy="429.4" r="1.4" fill="#5a78c0" fill-opacity="0.31"/>
<circle cx="295.0" cy="400.1" r="1.4" fill="#5a78c0" fill-opacity="0.31"/>
<circle cx="265.3" cy="428.1" r="1.4" fill="#5a78c0" fill-opacity="0.31"/>
<circle cx="280.7" cy="398.2" r="1.4" fill="#5a78c0" fill-opacity="0.31"/>
<circle cx="276.1" cy="425.1" r="1.4" fill="#5a78c0" fill-opacity="0.31"/>
<circle cx="284.8" cy="394.0" r="1.4" fill="#5a78c0" fill-opacity="0.31"/>
<circle cx="265.8" cy="415.5" r="1.4" fill="#5a78c0" fill-opacity="0.31"/>
<circle cx="270.9" cy="453.6" r="1.4" fill="#5a78c0" fill-opacity="0.31"/>
<circle cx="271.3" cy="399.7" r="1.4" fill="#5a78c0" fill-opacity="0.31"/>
<circle cx="278.2" cy="428.3" r="1.4" fill="#5a78c0" fill-opacity="0.31"/>
<circle cx="289.0" cy="457.0" r="1.4" fill="#5a78c0" fill-opacity="0.31"/>
<circle cx="291.2" cy="422.6" r="1.4" fill="#5a78c0" fill-opacity="0.31"/>
<circle cx="288.7" cy="421.8" r="1.4" fill="#5a78c0" fill-opacity="0.31"/>
<circle cx="285.0" cy="446.0" r="1.4" fill="#5a78c0" fill-opacity="0.31"/>
<circle cx="264.7" cy="434.8" r="1.4" fill="#5a78c0" fill-opacity="0.31"/>
<circle cx="275.1" cy="413.8" r="1.4" fill="#5a78c0" fill-opacity="0.31"/>
<circle cx="284.7" cy="396.2" r="1.4" fill="#5a78c0" fill-opacity="0.31"/>
<circle cx="271.8" cy="401.7" r="1.4" fill="#5a78c0" fill-opacity="0.31"/>
<circle cx="279.2" cy="400.0" r="1.4" fill="#5a78c0" fill-opacity="0.31"/>
<circle cx="292.8" cy="402.1" r="1.4" fill="#5a78c0" fill-opacity="0.31"/>
<circle cx="265.7" cy="465.5" r="1.4" fill="#5a78c0" fill-opacity="0.31"/>
<circle cx="291.0" cy="436.8" r="1.4" fill="#5a78c0" fill-opacity="0.31"/>
<circle cx="265.4" cy="421.1" r="1.4" fill="#5a78c0" fill-opacity="0.31"/>
<circle cx="275.0" cy="409.2" r="1.4" fill="#5a78c0" fill-opacity="0.31"/>
<circle cx="292.8" cy="406.8" r="1.4" fill="#5a78c0" fill-opacity="0.31"/>
<circle cx="268.7" cy="437.6" r="1.4" fill="#5a78c0" fill-opacity="0.31"/>
<circle cx="279.6" cy="431.1" r="1.4" fill="#5a78c0" fill-opacity="0.31"/>
<circle cx="276.0" cy="440.3" r="1.4" fill="#5a78c0" fill-opacity="0.31"/>
<circle cx="292.2" cy="425.2" r="1.4" fill="#5a78c0" fill-opacity="0.31"/>
<circle cx="295.8" cy="425.6" r="1.4" fill="#5a78c0" fill-opacity="0.31"/>
<circle cx="271.7" cy="425.1" r="1.4" fill="#5a78c0" fill-opacity="0.31"/>
<circle cx="278.6" cy="441.6" r="1.4" fill="#5a78c0" fill-opacity="0.31"/>
<circle cx="292.4" cy="417.0" r="1.4" fill="#5a78c0" fill-opacity="0.31"/>
<circle cx="280.4" cy="430.5" r="1.4" fill="#5a78c0" fill-opacity="0.31"/>
<circle cx="269.1" cy="405.6" r="1.4" fill="#5a78c0" fill-opacity="0.31"/>
<circle cx="287.8" cy="418.6" r="1.4" fill="#5a78c0" fill-opacity="0.31"/>
<circle cx="273.3" cy="449.1" r="1.4" fill="#5a78c0" fill-opacity="0.31"/>
<circle cx="278.4" cy="448.5" r="1.4" fill="#5a78c0" fill-opacity="0.31"/>
<circle cx="262.1" cy="423.5" r="1.4" fill="#5a78c0" fill-opacity="0.31"/>
<circle cx="295.7" cy="432.9" r="1.4" fill="#5a78c0" fill-opacity="0.31"/>
<circle cx="284.3" cy="415.4" r="1.4" fill="#5a78c0" fill-opacity="0.31"/>
<circle cx="293.5" cy="408.5" r="1.4" fill="#5a78c0" fill-opacity="0.31"/>
<circle cx="295.0" cy="424.5" r="1.4" fill="#5a78c0" fill-opacity="0.31"/>
<circle cx="270.9" cy="452.4" r="1.4" fill="#5a78c0" fill-opacity="0.31"/>
<circle cx="280.3" cy="444.4" r="1.4" fill="#5a78c0" fill-opacity="0.31"/>
<circle cx="276.9" cy="413.3" r="1.4" fill="#5a78c0" fill-opacity="0.31"/>
<circle cx="287.8" cy="442.1" r="1.4" fill="#5a78c0" fill-opacity="0.31"/>
<circle cx="290.6" cy="402.3" r="1.4" fill="#5a78c0" fill-opacity="0.31"/>
<circle cx="269.6" cy="426.4" r="1.4" fill="#5a78c0" fill-opacity="0.31"/>
<circle cx="271.2" cy="414.4" r="1.4" fill="#5a78c0" fill-opacity="0.31"/>
<circle cx="286.0" cy="439.4" r="1.4" fill="#5a78c0" fill-opacity="0.31"/>
<circle cx="275.9" cy="426.6" r="1.4" fill="#5a78c0" fill-opacity="0.31"/>
<circle cx="266.2" cy="428.3" r="1.4" fill="#5a78c0" fill-opacity="0.31"/>
<circle cx="268.5" cy="413.2" r="1.4" fill="#5a78c0" fill-opacity="0.31"/>
<circle cx="281.0" cy="439.6" r="1.4" fill="#5a78c0" fill-opacity="0.31"/>
<circle cx="282.3" cy="438.7" r="1.4" fill="#5a78c0" fill-opacity="0.31"/>
<circle cx="294.7" cy="425.8" r="1.4" fill="#5a78c0" fill-opacity="0.31"/>
<circle cx="280.0" cy="423.6" r="1.4" fill="#5a78c0" fill-opacity="0.31"/>
<circle cx="282.6" cy="438.1" r="1.4" fill="#5a78c0" fill-opacity="0.31"/>
<circle cx="266.9" cy="411.2" r="1.4" fill="#5a78c0" fill-opacity="0.31"/>
<circle cx="275.9" cy="451.8" r="1.4" fill="#5a78c0" fill-opacity="0.31"/>
<circle cx="271.4" cy="402.2" r="1.4" fill="#5a78c0" fill-opacity="0.31"/>
<circle cx="285.6" cy="447.8" r="1.4" fill="#5a78c0" fill-opacity="0.31"/>
<circle cx="270.9" cy="438.4" r="1.4" fill="#5a78c0" fill-opacity="0.31"/>
<circle cx="269.1" cy="397.8" r="1.4" fill="#5a78c0" fill-opacity="0.31"/>
<circle cx="274.4" cy="441.2" r="1.4" fill="#5a78c0" fill-opacity="0.31"/>
<circle cx="277.9" cy="451.9" r="1.4" fill="#5a78c0" fill-opacity="0.31"/>
<circle cx="273.4" cy="423.4" r="1.4" fill="#5a78c0" fill-opacity="0.31"/>
<circle cx="282.5" cy="439.9" r="1.4" fill="#5a78c0" fill-opacity="0.31"/>
<circle cx="268.0" cy="443.2" r="1.4" fill="#5a78c0" fill-opacity="0.31"/>
<circle cx="291.9" cy="436.4" r="1.4" fill="#5a78c0" fill-opacity="0.31"/>
<circle cx="285.6" cy="437.1" r="1.4" fill="#5a78c0" fill-opacity="0.31"/>
<circle cx="280.1" cy="440.8" r="1.4" fill="#5a78c0" fill-opacity="0.31"/>
<circle cx="263.8" cy="441.7" r="1.4" fill="#5a78c0" fill-opacity="0.31"/>
<circle cx="272.9" cy="392.1" r="1.4" fill="#5a78c0" fill-opacity="0.31"/>
<circle cx="285.4" cy="435.9" r="1.4" fill="#5a78c0" fill-opacity="0.31"/>
<circle cx="283.9" cy="405.1" r="1.4" fill="#5a78c0" fill-opacity="0.31"/>
<circle cx="289.6" cy="447.9" r="1.4" fill="#5a78c0" fill-opacity="0.31"/>
<circle cx="292.3" cy="413.9" r="1.4" fill="#5a78c0" fill-opacity="0.31"/>
<circle cx="272.6" cy="445.3" r="1.4" fill="#5a78c0" fill-opacity="0.31"/>
<circle cx="278.7" cy="432.4" r="1.4" fill="#5a78c0" fill-opacity="0.31"/>
<circle cx="273.1" cy="412.0" r="1.4" fill="#5a78c0" fill-opacity="0.31"/>
<circle cx="266.1" cy="433.6" r="1.4" fill="#5a78c0" fill-opacity="0.31"/>
<circle cx="266.6" cy="457.0" r="1.4" fill="#5a78c0" fill-opacity="0.31"/>
<circle cx="270.6" cy="434.0" r="1.4" fill="#5a78c0" fill-opacity="0.31"/>
<circle cx="264.8" cy="427.5" r="1.4" fill="#5a78c0" fill-opacity="0.31"/>
<circle cx="280.2" cy="413.3" r="1.4" fill="#5a78c0" fill-opacity="0.31"/>
<circle cx="285.9" cy="441.2" r="1.4" fill="#5a78c0" fill-opacity="0.31"/>
<circle cx="281.1" cy="429.8" r="1.4" fill="#5a78c0" fill-opacity="0.31"/>
<circle cx="285.2" cy="423.7" r="1.4" fill="#5a78c0" fill-opacity="0.31"/>
<circle cx="269.5" cy="451.8" r="1.4" fill="#5a78c0" fill-opacity="0.31"/>
<circle cx="268.6" cy="426.7" r="1.4" fill="#5a78c0" fill-opacity="0.31"/>
<circle cx="281.2" cy="438.4" r="1.4" fill="#5a78c0" fill-opacity="0.31"/>
<circle cx="292.1" cy="416.0" r="1.4" fill="#5a78c0" fill-opacity="0.31"/>
<circle cx="276.2" cy="426.7" r="1.4" fill="#5a78c0" fill-opacity="0.31"/>
<circle cx="261.9" cy="427.7" r="1.4" fill="#5a78c0" fill-opacity="0.31"/>
<circle cx="262.4" cy="464.3" r="1.4" fill="#5a78c0" fill-opacity="0.31"/>
<circle cx="272.2" cy="426.7" r="1.4" fill="#5a78c0" fill-opacity="0.31"/>
<circle cx="282.9" cy="431.0" r="1.4" fill="#5a78c0" fill-opacity="0.31"/>
<circle cx="264.7" cy="440.3" r="1.4" fill="#5a78c0" fill-opacity="0.31"/>
<circle cx="269.5" cy="433.3" r="1.4" fill="#5a78c0" fill-opacity="0.31"/>
<circle cx="285.1" cy="445.6" r="1.4" fill="#5a78c0" fill-opacity="0.31"/>
<circle cx="295.5" cy="421.4" r="1.4" fill="#5a78c0" fill-opacity="0.31"/>
<circle cx="273.5" cy="411.5" r="1.4" fill="#5a78c0" fill-opacity="0.31"/>
<circle cx="282.4" cy="412.8" r="1.4" fill="#5a78c0" fill-opacity="0.31"/>
<circle cx="279.5" cy="433.4" r="1.4" fill="#5a78c0" fill-opacity="0.31"/>
<circle cx="262.6" cy="390.7" r="1.4" fill="#5a78c0" fill-opacity="0.31"/>
<circle cx="273.1" cy="407.5" r="1.4" fill="#5a78c0" fill-opacity="0.31"/>
<circle cx="266.5" cy="440.4" r="1.4" fill="#5a78c0" fill-opacity="0.31"/>
<circle cx="270.4" cy="427.2" r="1.4" fill="#5a78c0" fill-opacity="0.31"/>
<circle cx="288.2" cy="451.5" r="1.4" fill="#5a78c0" fill-opacity="0.31"/>
<circle cx="285.1" cy="426.9" r="1.4" fill="#5a78c0" fill-opacity="0.31"/>
<circle cx="263.2" cy="410.4" r="1.4" fill="#5a78c0" fill-opacity="0.31"/>
<circle cx="264.4" cy="399.1" r="1.4" fill="#5a78c0" fill-opacity="0.31"/>
<circle cx="286.6" cy="431.8" r="1.4" fill="#5a78c0" fill-opacity="0.31"/>
<circle cx="265.3" cy="454.1" r="1.4" fill="#5a78c0" fill-opacity="0.31"/>
<circle cx="272.6" cy="427.7" r="1.4" fill="#5a78c0" fill-opacity="0.31"/>
<circle cx="271.0" cy="397.2" r="1.4" fill="#5a78c0" fill-opacity="0.31"/>
<circle cx="263.5" cy="422.0" r="1.4" fill="#5a78c0" fill-opacity="0.31"/>
<circle cx="262.8" cy="399.0" r="1.4" fill="#5a78c0" fill-opacity="0.31"/>
<circle cx="266.5" cy="408.1" r="1.4" fill="#5a78c0" fill-opacity="0.31"/>
<circle cx="275.4" cy="393.1" r="1.4" fill="#5a78c0" fill-opacity="0.31"/>
<circle cx="293.8" cy="412.7" r="1.4" fill="#5a78c0" fill-opacity="0.31"/>
<circle cx="283.6" cy="435.8" r="1.4" fill="#5a78c0" fill-opacity="0.31"/>
<circle cx="270.1" cy="415.9" r="1.4" fill="#5a78c0" fill-opacity="0.31"/>
<circle cx="285.1" cy="433.4" r="1.4" fill="#5a78c0" fill-opacity="0.31"/>
<circle cx="271.1" cy="455.2" r="1.4" fill="#5a78c0" fill-opacity="0.31"/>
<circle cx="279.4" cy="382.1" r="1.4" fill="#5a78c0" fill-opacity="0.31"/>
<circle cx="272.8" cy="416.6" r="1.4" fill="#5a78c0" fill-opacity="0.31"/>
<circle cx="294.3" cy="435.2" r="1.4" fill="#5a78c0" fill-opacity="0.31"/>
<circle cx="273.8" cy="434.8" r="1.4" fill="#5a78c0" fill-opacity="0.31"/>
<circle cx="289.3" cy="450.1" r="1.4" fill="#5a78c0" fill-opacity="0.31"/>
<circle cx="283.7" cy="410.6" r="1.4" fill="#5a78c0" fill-opacity="0.31"/>
<circle cx="290.7" cy="422.0" r="1.4" fill="#5a78c0" fill-opacity="0.31"/>
<circle cx="282.5" cy="435.3" r="1.4" fill="#5a78c0" fill-opacity="0.31"/>
<circle cx="291.6" cy="431.8" r="1.4" fill="#5a78c0" fill-opacity="0.31"/>
<circle cx="275.6" cy="431.9" r="1.4" fill="#5a78c0" fill-opacity="0.31"/>
<circle cx="285.0" cy="403.2" r="1.4" fill="#5a78c0" fill-opacity="0.31"/>
<circle cx="283.0" cy="427.9" r="1.4" fill="#5a78c0" fill-opacity="0.31"/>
<circle cx="279.9" cy="396.8" r="1.4" fill="#5a78c0" fill-opacity="0.31"/>
<circle cx="281.1" cy="438.6" r="1.4" fill="#5a78c0" fill-opacity="0.31"/>
<circle cx="280.1" cy="434.9" r="1.4" fill="#5a78c0" fill-opacity="0.31"/>
<circle cx="275.3" cy="432.8" r="1.4" fill="#5a78c0" fill-opacity="0.31"/>
<circle cx="292.6" cy="433.7" r="1.4" fill="#5a78c0" fill-opacity="0.31"/>
<circle cx="283.4" cy="426.4" r="1.4" fill="#5a78c0" fill-opacity="0.31"/>
<circle cx="280.6" cy="404.0" r="1.4" fill="#5a78c0" fill-opacity="0.31"/>
<circle cx="263.6" cy="400.3" r="1.4" fill="#5a78c0" fill-opacity="0.31"/>
<circle cx="279.2" cy="442.4" r="1.4" fill="#5a78c0" fill-opacity="0.31"/>
<circle cx="267.8" cy="398.9" r="1.4" fill="#5a78c0" fill-opacity="0.31"/>
<circle cx="269.1" cy="423.0" r="1.4" fill="#5a78c0" fill-opacity="0.31"/>
<circle cx="276.7" cy="392.6" r="1.4" fill="#5a78c0" fill-opacity="0.31"/>
<circle cx="280.5" cy="427.7" r="1.4" fill="#5a78c0" fill-opacity="0.31"/>
<circle cx="270.3" cy="438.6" r="1.4" fill="#5a78c0" fill-opacity="0.31"/>
<circle cx="271.0" cy="408.9" r="1.4" fill="#5a78c0" fill-opacity="0.31"/>
<circle cx="279.9" cy="412.2" r="1.4" fill="#5a78c0" fill-opacity="0.31"/>
<circle cx="278.0" cy="432.4" r="1.4" fill="#5a78c0" fill-opacity="0.31"/>
<circle cx="275.6" cy="424.5" r="1.4" fill="#5a78c0" fill-opacity="0.31"/>
<circle cx="265.3" cy="422.3" r="1.4" fill="#5a78c0" fill-opacity="0.31"/>
<circle cx="274.6" cy="418.6" r="1.4" fill="#5a78c0" fill-opacity="0.31"/>
<circle cx="284.2" cy="452.9" r="1.4" fill="#5a78c0" fill-opacity="0.31"/>
<circle cx="280.4" cy="444.6" r="1.4" fill="#5a78c0" fill-opacity="0.31"/>
<circle cx="280.4" cy="423.8" r="1.4" fill="#5a78c0" fill-opacity="0.31"/>
<circle cx="290.7" cy="419.6" r="1.4" fill="#5a78c0" fill-opacity="0.31"/>
<circle cx="286.6" cy="433.5" r="1.4" fill="#5a78c0" fill-opacity="0.31"/>
<circle cx="285.2" cy="453.6" r="1.4" fill="#5a78c0" fill-opacity="0.31"/>
<circle cx="262.8" cy="397.6" r="1.4" fill="#5a78c0" fill-opacity="0.31"/>
<circle cx="272.3" cy="430.0" r="1.4" fill="#5a78c0" fill-opacity="0.31"/>
<circle cx="285.2" cy="442.0" r="1.4" fill="#5a78c0" fill-opacity="0.31"/>
<circle cx="267.1" cy="392.4" r="1.4" fill="#5a78c0" fill-opacity="0.31"/>
<circle cx="293.1" cy="401.9" r="1.4" fill="#5a78c0" fill-opacity="0.31"/>
<circle cx="266.6" cy="403.8" r="1.4" fill="#5a78c0" fill-opacity="0.31"/>
<circle cx="291.9" cy="407.9" r="1.4" fill="#5a78c0" fill-opacity="0.31"/>
<circle cx="269.2" cy="413.3" r="1.4" fill="#5a78c0" fill-opacity="0.31"/>
<circle cx="290.6" cy="440.8" r="1.4" fill="#5a78c0" fill-opacity="0.31"/>
<circle cx="290.8" cy="424.3" r="1.4" fill="#5a78c0" fill-opacity="0.31"/>
<circle cx="273.3" cy="417.7" r="1.4" fill="#5a78c0" fill-opacity="0.31"/>
<circle cx="292.2" cy="412.0" r="1.4" fill="#5a78c0" fill-opacity="0.31"/>
<circle cx="267.2" cy="415.3" r="1.4" fill="#5a78c0" fill-opacity="0.31"/>
<circle cx="290.9" cy="441.4" r="1.4" fill="#5a78c0" fill-opacity="0.31"/>
<circle cx="274.8" cy="434.8" r="1.4" fill="#5a78c0" fill-opacity="0.31"/>
<circle cx="276.8" cy="430.4" r="1.4" fill="#5a78c0" fill-opacity="0.31"/>
<circle cx="265.8" cy="428.1" r="1.4" fill="#5a78c0" fill-opacity="0.31"/>
<circle cx="282.4" cy="439.2" r="1.4" fill="#5a78c0" fill-opacity="0.31"/>
<circle cx="271.0" cy="454.7" r="1.4" fill="#5a78c0" fill-opacity="0.31"/>
<circle cx="284.6" cy="444.8" r="1.4" fill="#5a78c0" fill-opacity="0.31"/>
<circle cx="289.2" cy="418.7" r="1.4" fill="#5a78c0" fill-opacity="0.31"/>
<circle cx="282.5" cy="425.1" r="1.4" fill="#5a78c0" fill-opacity="0.31"/>
<circle cx="262.0" cy="413.1" r="1.4" fill="#5a78c0" fill-opacity="0.31"/>
<circle cx="294.4" cy="455.7" r="1.4" fill="#5a78c0" fill-opacity="0.31"/>
<circle cx="293.3" cy="431.7" r="1.4" fill="#5a78c0" fill-opacity="0.31"/>
<circle cx="283.8" cy="406.8" r="1.4" fill="#5a78c0" fill-opacity="0.31"/>
<circle cx="274.8" cy="456.9" r="1.4" fill="#5a78c0" fill-opacity="0.31"/>
<circle cx="281.0" cy="442.6" r="1.4" fill="#5a78c0" fill-opacity="0.31"/>
<circle cx="292.0" cy="452.1" r="1.4" fill="#5a78c0" fill-opacity="0.31"/>
<circle cx="277.5" cy="400.3" r="1.4" fill="#5a78c0" fill-opacity="0.31"/>
<circle cx="288.5" cy="424.3" r="1.4" fill="#5a78c0" fill-opacity="0.31"/>
<circle cx="282.3" cy="434.3" r="1.4" fill="#5a78c0" fill-opacity="0.31"/>
<circle cx="276.2" cy="421.9" r="1.4" fill="#5a78c0" fill-opacity="0.31"/>
<circle cx="293.8" cy="426.4" r="1.4" fill="#5a78c0" fill-opacity="0.31"/>
<circle cx="275.8" cy="406.5" r="1.4" fill="#5a78c0" fill-opacity="0.31"/>
<circle cx="282.5" cy="401.1" r="1.4" fill="#5a78c0" fill-opacity="0.31"/>
<circle cx="263.6" cy="406.3" r="1.4" fill="#5a78c0" fill-opacity="0.31"/>
<circle cx="277.9" cy="418.0" r="1.4" fill="#5a78c0" fill-opacity="0.31"/>
<circle cx="263.0" cy="409.4" r="1.4" fill="#5a78c0" fill-opacity="0.31"/>
<circle cx="285.9" cy="408.4" r="1.4" fill="#5a78c0" fill-opacity="0.31"/>
<circle cx="261.8" cy="401.2" r="1.4" fill="#5a78c0" fill-opacity="0.31"/>
<circle cx="263.2" cy="454.9" r="1.4" fill="#5a78c0" fill-opacity="0.31"/>
<circle cx="265.6" cy="417.9" r="1.4" fill="#5a78c0" fill-opacity="0.31"/>
<circle cx="266.5" cy="366.0" r="1.4" fill="#5a78c0" fill-opacity="0.31"/>
<circle cx="279.2" cy="366.0" r="1.4" fill="#5a78c0" fill-opacity="0.31"/>
<circle cx="274.0" cy="370.9" r="1.4" fill="#5a78c0" fill-opacity="0.31"/>
<circle cx="271.0" cy="375.8" r="1.4" fill="#5a78c0" fill-opacity="0.31"/>
<circle cx="295.5" cy="470.4" r="1.4" fill="#5a78c0" fill-opacity="0.31"/>
<circle cx="292.9" cy="477.7" r="1.4" fill="#5a78c0" fill-opacity="0.31"/>
<circle cx="284.2" cy="479.0" r="1.4" fill="#5a78c0" fill-opacity="0.31"/>
<circle cx="289.3" cy="474.0" r="1.4" fill="#5a78c0" fill-opacity="0.31"/>
<path d="M107.5 298.2 V292.4 H278.9 V298.2" fill="none" stroke="#222" stroke-width="1.1"/>
<text x="194.8" y="290.1" font-size="7.5" fill="#222" text-anchor="middle">p&lt;2.22e-16</text>
<path d="M107.5 312.9 V307.1 H193.2 V312.9" fill="none" stroke="#222" stroke-width="1.1"/>
<text x="153.4" y="304.5" font-size="7.5" fill="#222" text-anchor="middle">9.3e-11</text>
<path d="M193.2 330 V324.6 H278.9 V330" fill="none" stroke="#222" stroke-width="1.1"/>
<text x="237.4" y="322.0" font-size="7.5" fill="#222" text-anchor="middle">2.8e-12</text>
<rect x="52.6" y="277.4" width="280.79999999999995" height="210.3" fill="none" stroke="#222" stroke-width="1.2"/>
<line x1="51.0" x2="52.6" y1="280.1" y2="280.1" stroke="#222" stroke-width="1.1"/>
<text x="45.4" y="283.65" font-size="9.9" fill="#222" text-anchor="end">60</text>
<line x1="51.0" x2="52.6" y1="329.2" y2="329.2" stroke="#222" stroke-width="1.1"/>
<text x="45.4" y="332.75" font-size="9.9" fill="#222" text-anchor="end">40</text>
<line x1="51.0" x2="52.6" y1="378.3" y2="378.3" stroke="#222" stroke-width="1.1"/>
<text x="45.4" y="381.84999999999997" font-size="9.9" fill="#222" text-anchor="end">20</text>
<line x1="51.0" x2="52.6" y1="427.4" y2="427.4" stroke="#222" stroke-width="1.1"/>
<text x="45.4" y="430.95" font-size="9.9" fill="#222" text-anchor="end">0</text>
<line x1="51.0" x2="52.6" y1="476.5" y2="476.5" stroke="#222" stroke-width="1.1"/>
<text x="46.199999999999996" y="480.05" font-size="9.9" fill="#222" text-anchor="end">−20</text>
<line x1="107.5" x2="107.5" y1="487.7" y2="489.5" stroke="#222" stroke-width="1.1"/>
<line x1="193.2" x2="193.2" y1="487.7" y2="489.5" stroke="#222" stroke-width="1.1"/>
<line x1="278.9" x2="278.9" y1="487.7" y2="489.5" stroke="#222" stroke-width="1.1"/>
<text x="106.2" y="501.5" font-size="9.0" fill="#222" text-anchor="middle">LOI</text>
<text x="106.2" y="511.9" font-size="9.0" fill="#222" text-anchor="middle">(Diagnostic CAG)</text>
<text x="106.2" y="522.3" font-size="9.0" fill="#222" text-anchor="middle">(n=49)</text>
<text x="193.2" y="501.5" font-size="9.0" fill="#222" text-anchor="middle">LOI</text>
<text x="193.2" y="511.9" font-size="9.0" fill="#222" text-anchor="middle">(Uninterrupted CAG)</text>
<text x="193.2" y="522.3" font-size="9.0" fill="#222" text-anchor="middle">(n=49)</text>
<text x="278.9" y="501.5" font-size="9.0" fill="#222" text-anchor="middle">Non-LOI</text>
<text x="278.9" y="511.9" font-size="9.0" fill="#222" text-anchor="middle">(n=473)</text>
<text x="191.0" y="540.6" font-size="10.4" fill="#111" text-anchor="middle">Carrier status</text>
<text x="0" y="0" font-size="10.45" fill="#111" text-anchor="middle" transform="translate(8.8,370.1) rotate(-90)">Years earlier from</text>
<text x="0" y="0" font-size="10.45" fill="#111" text-anchor="middle" transform="translate(21.7,369.6) rotate(-90)">expected age of onset</text>
<text x="0" y="278.4" font-size="16" fill="#000" text-anchor="start" font-weight="bold">c</text>
<rect x="396.4" y="277.5" width="288.0" height="209.3" fill="#fff"/>
<line x1="396.4" x2="684.4" y1="323.9" y2="323.9" stroke="#f4f4f4" stroke-width="0.9"/>
<line x1="396.4" x2="684.4" y1="385.3" y2="385.3" stroke="#f4f4f4" stroke-width="0.9"/>
<line x1="396.4" x2="684.4" y1="446.7" y2="446.7" stroke="#f4f4f4" stroke-width="0.9"/>
<line x1="396.4" x2="684.4" y1="293.2" y2="293.2" stroke="#ebebeb" stroke-width="1.1"/>
<line x1="396.4" x2="684.4" y1="354.6" y2="354.6" stroke="#ebebeb" stroke-width="1.1"/>
<line x1="396.4" x2="684.4" y1="416.0" y2="416.0" stroke="#ebebeb" stroke-width="1.1"/>
<line x1="396.4" x2="684.4" y1="477.4" y2="477.4" stroke="#ebebeb" stroke-width="1.1"/>
<line x1="452.8" x2="452.8" y1="277.5" y2="486.8" stroke="#ebebeb" stroke-width="1.1"/>
<line x1="540.4" x2="540.4" y1="277.5" y2="486.8" stroke="#ebebeb" stroke-width="1.1"/>
<line x1="628.0" x2="628.0" y1="277.5" y2="486.8" stroke="#ebebeb" stroke-width="1.1"/>
<line x1="452.8" x2="452.8" y1="404.2" y2="459.6" stroke="#111" stroke-width="1.7"/>
<rect x="419.8" y="423.2" width="66.0" height="20.1" fill="#f9d9d2" stroke="#111" stroke-width="1.7"/>
<line x1="419.8" x2="485.8" y1="434.0" y2="434.0" stroke="#333" stroke-width="3"/>
<line x1="540.4" x2="540.4" y1="383.8" y2="442.1" stroke="#111" stroke-width="1.7"/>
<rect x="507.4" y="405.6" width="66.0" height="21.8" fill="#feebd3" stroke="#111" stroke-width="1.7"/>
<line x1="507.4" x2="573.4" y1="412.6" y2="412.6" stroke="#333" stroke-width="3"/>
<line x1="628.0" x2="628.0" y1="332.3" y2="450.1" stroke="#111" stroke-width="1.7"/>
<rect x="595.0" y="376.4" width="66.0" height="31.3" fill="#d3daee" stroke="#111" stroke-width="1.7"/>
<line x1="595.0" x2="661.0" y1="390.5" y2="390.5" stroke="#333" stroke-width="3"/>
<circle cx="628.0" cy="459.0" r="1.2" fill="#888" fill-opacity="0.6"/>
<circle cx="628.0" cy="477.4" r="1.2" fill="#888" fill-opacity="0.6"/>
<circle cx="628.0" cy="328.5" r="1.2" fill="#888" fill-opacity="0.6"/>
<circle cx="455.2" cy="444.3" r="1.4" fill="#ef8e7c" fill-opacity="0.45"/>
<circle cx="467.5" cy="426.9" r="1.4" fill="#ef8e7c" fill-opacity="0.45"/>
<circle cx="460.6" cy="431.3" r="1.4" fill="#ef8e7c" fill-opacity="0.45"/>
<circle cx="452.3" cy="419.1" r="1.4" fill="#ef8e7c" fill-opacity="0.45"/>
<circle cx="443.1" cy="455.8" r="1.4" fill="#ef8e7c" fill-opacity="0.45"/>
<circle cx="446.7" cy="440.4" r="1.4" fill="#ef8e7c" fill-opacity="0.45"/>
<circle cx="459.8" cy="445.6" r="1.4" fill="#ef8e7c" fill-opacity="0.45"/>
<circle cx="441.1" cy="450.7" r="1.4" fill="#ef8e7c" fill-opacity="0.45"/>
<circle cx="467.1" cy="447.1" r="1.4" fill="#ef8e7c" fill-opacity="0.45"/>
<circle cx="444.7" cy="441.9" r="1.4" fill="#ef8e7c" fill-opacity="0.45"/>
<circle cx="467.2" cy="438.4" r="1.4" fill="#ef8e7c" fill-opacity="0.45"/>
<circle cx="446.1" cy="448.1" r="1.4" fill="#ef8e7c" fill-opacity="0.45"/>
<circle cx="468.8" cy="426.4" r="1.4" fill="#ef8e7c" fill-opacity="0.45"/>
<circle cx="460.0" cy="442.5" r="1.4" fill="#ef8e7c" fill-opacity="0.45"/>
<circle cx="452.9" cy="412.7" r="1.4" fill="#ef8e7c" fill-opacity="0.45"/>
<circle cx="453.4" cy="440.1" r="1.4" fill="#ef8e7c" fill-opacity="0.45"/>
<circle cx="458.1" cy="445.5" r="1.4" fill="#ef8e7c" fill-opacity="0.45"/>
<circle cx="455.9" cy="429.2" r="1.4" fill="#ef8e7c" fill-opacity="0.45"/>
<circle cx="446.2" cy="429.9" r="1.4" fill="#ef8e7c" fill-opacity="0.45"/>
<circle cx="442.6" cy="433.0" r="1.4" fill="#ef8e7c" fill-opacity="0.45"/>
<circle cx="453.2" cy="447.2" r="1.4" fill="#ef8e7c" fill-opacity="0.45"/>
<circle cx="468.0" cy="430.5" r="1.4" fill="#ef8e7c" fill-opacity="0.45"/>
<circle cx="457.1" cy="457.9" r="1.4" fill="#ef8e7c" fill-opacity="0.45"/>
<circle cx="437.9" cy="408.2" r="1.4" fill="#ef8e7c" fill-opacity="0.45"/>
<circle cx="464.0" cy="453.6" r="1.4" fill="#ef8e7c" fill-opacity="0.45"/>
<circle cx="460.7" cy="437.2" r="1.4" fill="#ef8e7c" fill-opacity="0.45"/>
<circle cx="467.1" cy="433.6" r="1.4" fill="#ef8e7c" fill-opacity="0.45"/>
<circle cx="442.0" cy="430.1" r="1.4" fill="#ef8e7c" fill-opacity="0.45"/>
<circle cx="461.4" cy="437.8" r="1.4" fill="#ef8e7c" fill-opacity="0.45"/>
<circle cx="437.3" cy="425.3" r="1.4" fill="#ef8e7c" fill-opacity="0.45"/>
<circle cx="458.2" cy="437.6" r="1.4" fill="#ef8e7c" fill-opacity="0.45"/>
<circle cx="444.8" cy="438.5" r="1.4" fill="#ef8e7c" fill-opacity="0.45"/>
<circle cx="443.2" cy="442.7" r="1.4" fill="#ef8e7c" fill-opacity="0.45"/>
<circle cx="466.0" cy="409.0" r="1.4" fill="#ef8e7c" fill-opacity="0.45"/>
<circle cx="439.0" cy="451.2" r="1.4" fill="#ef8e7c" fill-opacity="0.45"/>
<circle cx="453.6" cy="437.3" r="1.4" fill="#ef8e7c" fill-opacity="0.45"/>
<circle cx="465.2" cy="431.4" r="1.4" fill="#ef8e7c" fill-opacity="0.45"/>
<circle cx="443.9" cy="423.7" r="1.4" fill="#ef8e7c" fill-opacity="0.45"/>
<circle cx="442.7" cy="436.1" r="1.4" fill="#ef8e7c" fill-opacity="0.45"/>
<circle cx="466.1" cy="433.2" r="1.4" fill="#ef8e7c" fill-opacity="0.45"/>
<circle cx="450.1" cy="458.6" r="1.4" fill="#ef8e7c" fill-opacity="0.45"/>
<circle cx="460.4" cy="452.5" r="1.4" fill="#ef8e7c" fill-opacity="0.45"/>
<circle cx="436.4" cy="428.7" r="1.4" fill="#ef8e7c" fill-opacity="0.45"/>
<circle cx="448.0" cy="431.4" r="1.4" fill="#ef8e7c" fill-opacity="0.45"/>
<circle cx="441.3" cy="434.1" r="1.4" fill="#ef8e7c" fill-opacity="0.45"/>
<circle cx="458.9" cy="453.5" r="1.4" fill="#ef8e7c" fill-opacity="0.45"/>
<circle cx="438.2" cy="404.6" r="1.4" fill="#ef8e7c" fill-opacity="0.45"/>
<circle cx="468.7" cy="417.9" r="1.4" fill="#ef8e7c" fill-opacity="0.45"/>
<circle cx="436.2" cy="444.1" r="1.4" fill="#ef8e7c" fill-opacity="0.45"/>
<circle cx="538.5" cy="413.3" r="1.4" fill="#f7b454" fill-opacity="0.45"/>
<circle cx="531.7" cy="417.6" r="1.4" fill="#f7b454" fill-opacity="0.45"/>
<circle cx="543.6" cy="414.2" r="1.4" fill="#f7b454" fill-opacity="0.45"/>
<circle cx="544.8" cy="391.2" r="1.4" fill="#f7b454" fill-opacity="0.45"/>
<circle cx="550.9" cy="408.5" r="1.4" fill="#f7b454" fill-opacity="0.45"/>
<circle cx="547.7" cy="406.4" r="1.4" fill="#f7b454" fill-opacity="0.45"/>
<circle cx="531.9" cy="421.3" r="1.4" fill="#f7b454" fill-opacity="0.45"/>
<circle cx="537.7" cy="435.2" r="1.4" fill="#f7b454" fill-opacity="0.45"/>
<circle cx="541.3" cy="403.1" r="1.4" fill="#f7b454" fill-opacity="0.45"/>
<circle cx="523.0" cy="410.8" r="1.4" fill="#f7b454" fill-opacity="0.45"/>
<circle cx="524.1" cy="410.0" r="1.4" fill="#f7b454" fill-opacity="0.45"/>
<circle cx="537.2" cy="431.5" r="1.4" fill="#f7b454" fill-opacity="0.45"/>
<circle cx="526.8" cy="399.2" r="1.4" fill="#f7b454" fill-opacity="0.45"/>
<circle cx="548.2" cy="413.2" r="1.4" fill="#f7b454" fill-opacity="0.45"/>
<circle cx="531.3" cy="424.6" r="1.4" fill="#f7b454" fill-opacity="0.45"/>
<circle cx="526.4" cy="415.8" r="1.4" fill="#f7b454" fill-opacity="0.45"/>
<circle cx="529.2" cy="410.1" r="1.4" fill="#f7b454" fill-opacity="0.45"/>
<circle cx="531.0" cy="406.3" r="1.4" fill="#f7b454" fill-opacity="0.45"/>
<circle cx="530.5" cy="416.0" r="1.4" fill="#f7b454" fill-opacity="0.45"/>
<circle cx="541.1" cy="411.8" r="1.4" fill="#f7b454" fill-opacity="0.45"/>
<circle cx="539.2" cy="420.3" r="1.4" fill="#f7b454" fill-opacity="0.45"/>
<circle cx="533.7" cy="439.2" r="1.4" fill="#f7b454" fill-opacity="0.45"/>
<circle cx="545.4" cy="410.0" r="1.4" fill="#f7b454" fill-opacity="0.45"/>
<circle cx="530.3" cy="395.6" r="1.4" fill="#f7b454" fill-opacity="0.45"/>
<circle cx="554.6" cy="417.2" r="1.4" fill="#f7b454" fill-opacity="0.45"/>
<circle cx="556.6" cy="407.6" r="1.4" fill="#f7b454" fill-opacity="0.45"/>
<circle cx="548.4" cy="404.9" r="1.4" fill="#f7b454" fill-opacity="0.45"/>
<circle cx="538.1" cy="401.8" r="1.4" fill="#f7b454" fill-opacity="0.45"/>
<circle cx="540.8" cy="401.5" r="1.4" fill="#f7b454" fill-opacity="0.45"/>
<circle cx="543.2" cy="435.6" r="1.4" fill="#f7b454" fill-opacity="0.45"/>
<circle cx="524.7" cy="403.8" r="1.4" fill="#f7b454" fill-opacity="0.45"/>
<circle cx="537.5" cy="394.2" r="1.4" fill="#f7b454" fill-opacity="0.45"/>
<circle cx="541.3" cy="389.3" r="1.4" fill="#f7b454" fill-opacity="0.45"/>
<circle cx="529.2" cy="414.5" r="1.4" fill="#f7b454" fill-opacity="0.45"/>
<circle cx="526.2" cy="396.6" r="1.4" fill="#f7b454" fill-opacity="0.45"/>
<circle cx="551.0" cy="416.7" r="1.4" fill="#f7b454" fill-opacity="0.45"/>
<circle cx="535.7" cy="411.5" r="1.4" fill="#f7b454" fill-opacity="0.45"/>
<circle cx="541.1" cy="425.2" r="1.4" fill="#f7b454" fill-opacity="0.45"/>
<circle cx="555.2" cy="417.4" r="1.4" fill="#f7b454" fill-opacity="0.45"/>
<circle cx="544.3" cy="409.8" r="1.4" fill="#f7b454" fill-opacity="0.45"/>
<circle cx="533.0" cy="411.6" r="1.4" fill="#f7b454" fill-opacity="0.45"/>
<circle cx="557.3" cy="409.8" r="1.4" fill="#f7b454" fill-opacity="0.45"/>
<circle cx="535.9" cy="408.2" r="1.4" fill="#f7b454" fill-opacity="0.45"/>
<circle cx="523.5" cy="431.9" r="1.4" fill="#f7b454" fill-opacity="0.45"/>
<circle cx="546.9" cy="434.5" r="1.4" fill="#f7b454" fill-opacity="0.45"/>
<circle cx="526.4" cy="385.4" r="1.4" fill="#f7b454" fill-opacity="0.45"/>
<circle cx="533.6" cy="418.5" r="1.4" fill="#f7b454" fill-opacity="0.45"/>
<circle cx="552.3" cy="404.1" r="1.4" fill="#f7b454" fill-opacity="0.45"/>
<circle cx="546.4" cy="413.2" r="1.4" fill="#f7b454" fill-opacity="0.45"/>
<circle cx="612.6" cy="365.6" r="1.4" fill="#5a78c0" fill-opacity="0.31"/>
<circle cx="633.8" cy="387.4" r="1.4" fill="#5a78c0" fill-opacity="0.31"/>
<circle cx="615.3" cy="418.9" r="1.4" fill="#5a78c0" fill-opacity="0.31"/>
<circle cx="632.3" cy="376.1" r="1.4" fill="#5a78c0" fill-opacity="0.31"/>
<circle cx="624.2" cy="382.1" r="1.4" fill="#5a78c0" fill-opacity="0.31"/>
<circle cx="625.8" cy="361.2" r="1.4" fill="#5a78c0" fill-opacity="0.31"/>
<circle cx="644.5" cy="373.5" r="1.4" fill="#5a78c0" fill-opacity="0.31"/>
<circle cx="624.2" cy="381.6" r="1.4" fill="#5a78c0" fill-opacity="0.31"/>
<circle cx="627.1" cy="438.4" r="1.4" fill="#5a78c0" fill-opacity="0.31"/>
<circle cx="623.8" cy="352.6" r="1.4" fill="#5a78c0" fill-opacity="0.31"/>
<circle cx="618.0" cy="356.8" r="1.4" fill="#5a78c0" fill-opacity="0.31"/>
<circle cx="618.3" cy="372.5" r="1.4" fill="#5a78c0" fill-opacity="0.31"/>
<circle cx="629.1" cy="379.5" r="1.4" fill="#5a78c0" fill-opacity="0.31"/>
<circle cx="639.1" cy="362.8" r="1.4" fill="#5a78c0" fill-opacity="0.31"/>
<circle cx="613.7" cy="415.6" r="1.4" fill="#5a78c0" fill-opacity="0.31"/>
<circle cx="643.6" cy="374.2" r="1.4" fill="#5a78c0" fill-opacity="0.31"/>
<circle cx="634.1" cy="389.3" r="1.4" fill="#5a78c0" fill-opacity="0.31"/>
<circle cx="612.4" cy="419.6" r="1.4" fill="#5a78c0" fill-opacity="0.31"/>
<circle cx="635.3" cy="381.6" r="1.4" fill="#5a78c0" fill-opacity="0.31"/>
<circle cx="624.5" cy="381.9" r="1.4" fill="#5a78c0" fill-opacity="0.31"/>
<circle cx="628.5" cy="352.0" r="1.4" fill="#5a78c0" fill-opacity="0.31"/>
<circle cx="614.0" cy="368.8" r="1.4" fill="#5a78c0" fill-opacity="0.31"/>
<circle cx="628.4" cy="437.6" r="1.4" fill="#5a78c0" fill-opacity="0.31"/>
<circle cx="628.7" cy="448.3" r="1.4" fill="#5a78c0" fill-opacity="0.31"/>
<circle cx="637.9" cy="392.1" r="1.4" fill="#5a78c0" fill-opacity="0.31"/>
<circle cx="630.8" cy="396.0" r="1.4" fill="#5a78c0" fill-opacity="0.31"/>
<circle cx="635.2" cy="417.7" r="1.4" fill="#5a78c0" fill-opacity="0.31"/>
<circle cx="636.2" cy="433.2" r="1.4" fill="#5a78c0" fill-opacity="0.31"/>
<circle cx="618.2" cy="395.5" r="1.4" fill="#5a78c0" fill-opacity="0.31"/>
<circle cx="611.3" cy="424.3" r="1.4" fill="#5a78c0" fill-opacity="0.31"/>
<circle cx="627.2" cy="410.4" r="1.4" fill="#5a78c0" fill-opacity="0.31"/>
<circle cx="615.0" cy="370.6" r="1.4" fill="#5a78c0" fill-opacity="0.31"/>
<circle cx="615.4" cy="384.5" r="1.4" fill="#5a78c0" fill-opacity="0.31"/>
<circle cx="621.8" cy="412.3" r="1.4" fill="#5a78c0" fill-opacity="0.31"/>
<circle cx="629.3" cy="423.3" r="1.4" fill="#5a78c0" fill-opacity="0.31"/>
<circle cx="632.1" cy="395.3" r="1.4" fill="#5a78c0" fill-opacity="0.31"/>
<circle cx="633.1" cy="351.3" r="1.4" fill="#5a78c0" fill-opacity="0.31"/>
<circle cx="643.5" cy="404.9" r="1.4" fill="#5a78c0" fill-opacity="0.31"/>
<circle cx="614.1" cy="351.4" r="1.4" fill="#5a78c0" fill-opacity="0.31"/>
<circle cx="630.0" cy="413.2" r="1.4" fill="#5a78c0" fill-opacity="0.31"/>
<circle cx="613.5" cy="396.0" r="1.4" fill="#5a78c0" fill-opacity="0.31"/>
<circle cx="634.0" cy="374.3" r="1.4" fill="#5a78c0" fill-opacity="0.31"/>
<circle cx="625.8" cy="412.8" r="1.4" fill="#5a78c0" fill-opacity="0.31"/>
<circle cx="615.4" cy="388.5" r="1.4" fill="#5a78c0" fill-opacity="0.31"/>
<circle cx="621.4" cy="430.2" r="1.4" fill="#5a78c0" fill-opacity="0.31"/>
<circle cx="633.6" cy="375.1" r="1.4" fill="#5a78c0" fill-opacity="0.31"/>
<circle cx="627.1" cy="364.1" r="1.4" fill="#5a78c0" fill-opacity="0.31"/>
<circle cx="643.6" cy="409.1" r="1.4" fill="#5a78c0" fill-opacity="0.31"/>
<circle cx="622.9" cy="385.6" r="1.4" fill="#5a78c0" fill-opacity="0.31"/>
<circle cx="622.4" cy="401.9" r="1.4" fill="#5a78c0" fill-opacity="0.31"/>
<circle cx="642.8" cy="375.8" r="1.4" fill="#5a78c0" fill-opacity="0.31"/>
<circle cx="631.7" cy="371.4" r="1.4" fill="#5a78c0" fill-opacity="0.31"/>
<circle cx="614.2" cy="381.2" r="1.4" fill="#5a78c0" fill-opacity="0.31"/>
<circle cx="638.0" cy="385.9" r="1.4" fill="#5a78c0" fill-opacity="0.31"/>
<circle cx="623.2" cy="337.2" r="1.4" fill="#5a78c0" fill-opacity="0.31"/>
<circle cx="643.7" cy="444.2" r="1.4" fill="#5a78c0" fill-opacity="0.31"/>
<circle cx="632.8" cy="399.1" r="1.4" fill="#5a78c0" fill-opacity="0.31"/>
<circle cx="638.7" cy="402.3" r="1.4" fill="#5a78c0" fill-opacity="0.31"/>
<circle cx="641.9" cy="396.0" r="1.4" fill="#5a78c0" fill-opacity="0.31"/>
<circle cx="628.3" cy="374.3" r="1.4" fill="#5a78c0" fill-opacity="0.31"/>
<circle cx="644.4" cy="411.3" r="1.4" fill="#5a78c0" fill-opacity="0.31"/>
<circle cx="611.4" cy="429.4" r="1.4" fill="#5a78c0" fill-opacity="0.31"/>
<circle cx="622.4" cy="423.4" r="1.4" fill="#5a78c0" fill-opacity="0.31"/>
<circle cx="639.8" cy="379.6" r="1.4" fill="#5a78c0" fill-opacity="0.31"/>
<circle cx="610.8" cy="368.7" r="1.4" fill="#5a78c0" fill-opacity="0.31"/>
<circle cx="634.0" cy="371.8" r="1.4" fill="#5a78c0" fill-opacity="0.31"/>
<circle cx="645.5" cy="354.3" r="1.4" fill="#5a78c0" fill-opacity="0.31"/>
<circle cx="635.5" cy="405.2" r="1.4" fill="#5a78c0" fill-opacity="0.31"/>
<circle cx="640.7" cy="367.8" r="1.4" fill="#5a78c0" fill-opacity="0.31"/>
<circle cx="613.2" cy="374.6" r="1.4" fill="#5a78c0" fill-opacity="0.31"/>
<circle cx="629.4" cy="394.7" r="1.4" fill="#5a78c0" fill-opacity="0.31"/>
<circle cx="631.8" cy="412.2" r="1.4" fill="#5a78c0" fill-opacity="0.31"/>
<circle cx="625.7" cy="370.3" r="1.4" fill="#5a78c0" fill-opacity="0.31"/>
<circle cx="625.2" cy="410.1" r="1.4" fill="#5a78c0" fill-opacity="0.31"/>
<circle cx="638.2" cy="398.5" r="1.4" fill="#5a78c0" fill-opacity="0.31"/>
<circle cx="616.2" cy="418.8" r="1.4" fill="#5a78c0" fill-opacity="0.31"/>
<circle cx="612.1" cy="351.0" r="1.4" fill="#5a78c0" fill-opacity="0.31"/>
<circle cx="631.3" cy="391.3" r="1.4" fill="#5a78c0" fill-opacity="0.31"/>
<circle cx="644.3" cy="404.7" r="1.4" fill="#5a78c0" fill-opacity="0.31"/>
<circle cx="639.5" cy="397.2" r="1.4" fill="#5a78c0" fill-opacity="0.31"/>
<circle cx="634.1" cy="396.5" r="1.4" fill="#5a78c0" fill-opacity="0.31"/>
<circle cx="620.8" cy="387.8" r="1.4" fill="#5a78c0" fill-opacity="0.31"/>
<circle cx="642.2" cy="440.7" r="1.4" fill="#5a78c0" fill-opacity="0.31"/>
<circle cx="611.9" cy="424.4" r="1.4" fill="#5a78c0" fill-opacity="0.31"/>
<circle cx="619.1" cy="378.5" r="1.4" fill="#5a78c0" fill-opacity="0.31"/>
<circle cx="638.1" cy="365.7" r="1.4" fill="#5a78c0" fill-opacity="0.31"/>
<circle cx="641.8" cy="420.0" r="1.4" fill="#5a78c0" fill-opacity="0.31"/>
<circle cx="624.6" cy="387.3" r="1.4" fill="#5a78c0" fill-opacity="0.31"/>
<circle cx="642.3" cy="407.0" r="1.4" fill="#5a78c0" fill-opacity="0.31"/>
<circle cx="614.4" cy="399.1" r="1.4" fill="#5a78c0" fill-opacity="0.31"/>
<circle cx="631.4" cy="422.2" r="1.4" fill="#5a78c0" fill-opacity="0.31"/>
<circle cx="612.8" cy="370.4" r="1.4" fill="#5a78c0" fill-opacity="0.31"/>
<circle cx="618.7" cy="396.1" r="1.4" fill="#5a78c0" fill-opacity="0.31"/>
<circle cx="617.1" cy="391.0" r="1.4" fill="#5a78c0" fill-opacity="0.31"/>
<circle cx="610.7" cy="433.4" r="1.4" fill="#5a78c0" fill-opacity="0.31"/>
<circle cx="624.7" cy="386.6" r="1.4" fill="#5a78c0" fill-opacity="0.31"/>
<circle cx="628.0" cy="447.9" r="1.4" fill="#5a78c0" fill-opacity="0.31"/>
<circle cx="620.3" cy="384.9" r="1.4" fill="#5a78c0" fill-opacity="0.31"/>
<circle cx="633.3" cy="359.2" r="1.4" fill="#5a78c0" fill-opacity="0.31"/>
<circle cx="612.3" cy="426.0" r="1.4" fill="#5a78c0" fill-opacity="0.31"/>
<circle cx="628.6" cy="370.9" r="1.4" fill="#5a78c0" fill-opacity="0.31"/>
<circle cx="629.0" cy="358.6" r="1.4" fill="#5a78c0" fill-opacity="0.31"/>
<circle cx="624.6" cy="395.8" r="1.4" fill="#5a78c0" fill-opacity="0.31"/>
<circle cx="642.5" cy="365.0" r="1.4" fill="#5a78c0" fill-opacity="0.31"/>
<circle cx="614.9" cy="387.9" r="1.4" fill="#5a78c0" fill-opacity="0.31"/>
<circle cx="625.4" cy="404.5" r="1.4" fill="#5a78c0" fill-opacity="0.31"/>
<circle cx="626.6" cy="449.8" r="1.4" fill="#5a78c0" fill-opacity="0.31"/>
<circle cx="623.5" cy="422.0" r="1.4" fill="#5a78c0" fill-opacity="0.31"/>
<circle cx="644.6" cy="434.2" r="1.4" fill="#5a78c0" fill-opacity="0.31"/>
<circle cx="630.5" cy="336.9" r="1.4" fill="#5a78c0" fill-opacity="0.31"/>
<circle cx="628.6" cy="384.0" r="1.4" fill="#5a78c0" fill-opacity="0.31"/>
<circle cx="625.9" cy="395.0" r="1.4" fill="#5a78c0" fill-opacity="0.31"/>
<circle cx="625.8" cy="430.1" r="1.4" fill="#5a78c0" fill-opacity="0.31"/>
<circle cx="643.8" cy="351.6" r="1.4" fill="#5a78c0" fill-opacity="0.31"/>
<circle cx="638.5" cy="424.5" r="1.4" fill="#5a78c0" fill-opacity="0.31"/>
<circle cx="633.2" cy="356.8" r="1.4" fill="#5a78c0" fill-opacity="0.31"/>
<circle cx="616.2" cy="365.7" r="1.4" fill="#5a78c0" fill-opacity="0.31"/>
<circle cx="631.3" cy="388.2" r="1.4" fill="#5a78c0" fill-opacity="0.31"/>
<circle cx="615.0" cy="409.5" r="1.4" fill="#5a78c0" fill-opacity="0.31"/>
<circle cx="622.8" cy="391.2" r="1.4" fill="#5a78c0" fill-opacity="0.31"/>
<circle cx="611.3" cy="429.3" r="1.4" fill="#5a78c0" fill-opacity="0.31"/>
<circle cx="635.2" cy="375.4" r="1.4" fill="#5a78c0" fill-opacity="0.31"/>
<circle cx="644.7" cy="352.4" r="1.4" fill="#5a78c0" fill-opacity="0.31"/>
<circle cx="632.8" cy="370.0" r="1.4" fill="#5a78c0" fill-opacity="0.31"/>
<circle cx="630.4" cy="366.5" r="1.4" fill="#5a78c0" fill-opacity="0.31"/>
<circle cx="619.3" cy="410.7" r="1.4" fill="#5a78c0" fill-opacity="0.31"/>
<circle cx="626.0" cy="383.0" r="1.4" fill="#5a78c0" fill-opacity="0.31"/>
<circle cx="626.8" cy="420.4" r="1.4" fill="#5a78c0" fill-opacity="0.31"/>
<circle cx="625.3" cy="403.3" r="1.4" fill="#5a78c0" fill-opacity="0.31"/>
<circle cx="619.9" cy="373.6" r="1.4" fill="#5a78c0" fill-opacity="0.31"/>
<circle cx="618.2" cy="334.2" r="1.4" fill="#5a78c0" fill-opacity="0.31"/>
<circle cx="636.8" cy="388.2" r="1.4" fill="#5a78c0" fill-opacity="0.31"/>
<circle cx="643.9" cy="389.0" r="1.4" fill="#5a78c0" fill-opacity="0.31"/>
<circle cx="639.3" cy="446.3" r="1.4" fill="#5a78c0" fill-opacity="0.31"/>
<circle cx="632.3" cy="385.9" r="1.4" fill="#5a78c0" fill-opacity="0.31"/>
<circle cx="611.5" cy="417.0" r="1.4" fill="#5a78c0" fill-opacity="0.31"/>
<circle cx="621.1" cy="431.7" r="1.4" fill="#5a78c0" fill-opacity="0.31"/>
<circle cx="639.9" cy="434.3" r="1.4" fill="#5a78c0" fill-opacity="0.31"/>
<circle cx="644.6" cy="386.6" r="1.4" fill="#5a78c0" fill-opacity="0.31"/>
<circle cx="629.7" cy="401.7" r="1.4" fill="#5a78c0" fill-opacity="0.31"/>
<circle cx="630.4" cy="374.7" r="1.4" fill="#5a78c0" fill-opacity="0.31"/>
<circle cx="634.5" cy="396.8" r="1.4" fill="#5a78c0" fill-opacity="0.31"/>
<circle cx="619.1" cy="389.9" r="1.4" fill="#5a78c0" fill-opacity="0.31"/>
<circle cx="635.4" cy="357.2" r="1.4" fill="#5a78c0" fill-opacity="0.31"/>
<circle cx="623.3" cy="371.9" r="1.4" fill="#5a78c0" fill-opacity="0.31"/>
<circle cx="640.2" cy="372.7" r="1.4" fill="#5a78c0" fill-opacity="0.31"/>
<circle cx="626.7" cy="357.0" r="1.4" fill="#5a78c0" fill-opacity="0.31"/>
<circle cx="633.7" cy="384.9" r="1.4" fill="#5a78c0" fill-opacity="0.31"/>
<circle cx="630.0" cy="419.4" r="1.4" fill="#5a78c0" fill-opacity="0.31"/>
<circle cx="629.2" cy="413.6" r="1.4" fill="#5a78c0" fill-opacity="0.31"/>
<circle cx="626.6" cy="436.5" r="1.4" fill="#5a78c0" fill-opacity="0.31"/>
<circle cx="643.8" cy="381.9" r="1.4" fill="#5a78c0" fill-opacity="0.31"/>
<circle cx="636.9" cy="401.9" r="1.4" fill="#5a78c0" fill-opacity="0.31"/>
<circle cx="625.2" cy="378.4" r="1.4" fill="#5a78c0" fill-opacity="0.31"/>
<circle cx="628.2" cy="371.2" r="1.4" fill="#5a78c0" fill-opacity="0.31"/>
<circle cx="641.9" cy="414.1" r="1.4" fill="#5a78c0" fill-opacity="0.31"/>
<circle cx="636.7" cy="385.7" r="1.4" fill="#5a78c0" fill-opacity="0.31"/>
<circle cx="633.4" cy="361.5" r="1.4" fill="#5a78c0" fill-opacity="0.31"/>
<circle cx="644.1" cy="387.9" r="1.4" fill="#5a78c0" fill-opacity="0.31"/>
<circle cx="614.6" cy="369.0" r="1.4" fill="#5a78c0" fill-opacity="0.31"/>
<circle cx="631.4" cy="395.6" r="1.4" fill="#5a78c0" fill-opacity="0.31"/>
<circle cx="632.4" cy="418.2" r="1.4" fill="#5a78c0" fill-opacity="0.31"/>
<circle cx="626.4" cy="396.7" r="1.4" fill="#5a78c0" fill-opacity="0.31"/>
<circle cx="644.2" cy="446.2" r="1.4" fill="#5a78c0" fill-opacity="0.31"/>
<circle cx="644.4" cy="374.0" r="1.4" fill="#5a78c0" fill-opacity="0.31"/>
<circle cx="624.2" cy="405.2" r="1.4" fill="#5a78c0" fill-opacity="0.31"/>
<circle cx="632.1" cy="359.8" r="1.4" fill="#5a78c0" fill-opacity="0.31"/>
<circle cx="637.3" cy="426.6" r="1.4" fill="#5a78c0" fill-opacity="0.31"/>
<circle cx="634.9" cy="386.9" r="1.4" fill="#5a78c0" fill-opacity="0.31"/>
<circle cx="623.2" cy="382.1" r="1.4" fill="#5a78c0" fill-opacity="0.31"/>
<circle cx="638.4" cy="395.8" r="1.4" fill="#5a78c0" fill-opacity="0.31"/>
<circle cx="622.7" cy="381.2" r="1.4" fill="#5a78c0" fill-opacity="0.31"/>
<circle cx="615.6" cy="412.4" r="1.4" fill="#5a78c0" fill-opacity="0.31"/>
<circle cx="633.8" cy="422.0" r="1.4" fill="#5a78c0" fill-opacity="0.31"/>
<circle cx="633.2" cy="432.0" r="1.4" fill="#5a78c0" fill-opacity="0.31"/>
<circle cx="624.8" cy="406.7" r="1.4" fill="#5a78c0" fill-opacity="0.31"/>
<circle cx="628.0" cy="414.2" r="1.4" fill="#5a78c0" fill-opacity="0.31"/>
<circle cx="645.1" cy="384.5" r="1.4" fill="#5a78c0" fill-opacity="0.31"/>
<circle cx="638.8" cy="400.8" r="1.4" fill="#5a78c0" fill-opacity="0.31"/>
<circle cx="624.7" cy="409.6" r="1.4" fill="#5a78c0" fill-opacity="0.31"/>
<circle cx="642.4" cy="411.8" r="1.4" fill="#5a78c0" fill-opacity="0.31"/>
<circle cx="630.5" cy="446.9" r="1.4" fill="#5a78c0" fill-opacity="0.31"/>
<circle cx="624.7" cy="400.8" r="1.4" fill="#5a78c0" fill-opacity="0.31"/>
<circle cx="633.1" cy="380.5" r="1.4" fill="#5a78c0" fill-opacity="0.31"/>
<circle cx="637.9" cy="429.9" r="1.4" fill="#5a78c0" fill-opacity="0.31"/>
<circle cx="641.9" cy="397.5" r="1.4" fill="#5a78c0" fill-opacity="0.31"/>
<circle cx="634.0" cy="374.7" r="1.4" fill="#5a78c0" fill-opacity="0.31"/>
<circle cx="633.9" cy="410.7" r="1.4" fill="#5a78c0" fill-opacity="0.31"/>
<circle cx="624.5" cy="385.5" r="1.4" fill="#5a78c0" fill-opacity="0.31"/>
<circle cx="611.9" cy="402.6" r="1.4" fill="#5a78c0" fill-opacity="0.31"/>
<circle cx="626.4" cy="334.8" r="1.4" fill="#5a78c0" fill-opacity="0.31"/>
<circle cx="614.5" cy="358.5" r="1.4" fill="#5a78c0" fill-opacity="0.31"/>
<circle cx="643.5" cy="363.2" r="1.4" fill="#5a78c0" fill-opacity="0.31"/>
<circle cx="623.2" cy="410.4" r="1.4" fill="#5a78c0" fill-opacity="0.31"/>
<circle cx="631.7" cy="375.2" r="1.4" fill="#5a78c0" fill-opacity="0.31"/>
<circle cx="636.2" cy="394.7" r="1.4" fill="#5a78c0" fill-opacity="0.31"/>
<circle cx="616.7" cy="381.7" r="1.4" fill="#5a78c0" fill-opacity="0.31"/>
<circle cx="639.7" cy="407.1" r="1.4" fill="#5a78c0" fill-opacity="0.31"/>
<circle cx="621.9" cy="386.2" r="1.4" fill="#5a78c0" fill-opacity="0.31"/>
<circle cx="613.3" cy="412.9" r="1.4" fill="#5a78c0" fill-opacity="0.31"/>
<circle cx="631.5" cy="383.2" r="1.4" fill="#5a78c0" fill-opacity="0.31"/>
<circle cx="624.6" cy="350.3" r="1.4" fill="#5a78c0" fill-opacity="0.31"/>
<circle cx="642.7" cy="431.2" r="1.4" fill="#5a78c0" fill-opacity="0.31"/>
<circle cx="626.1" cy="429.6" r="1.4" fill="#5a78c0" fill-opacity="0.31"/>
<circle cx="613.8" cy="378.5" r="1.4" fill="#5a78c0" fill-opacity="0.31"/>
<circle cx="611.1" cy="371.9" r="1.4" fill="#5a78c0" fill-opacity="0.31"/>
<circle cx="611.5" cy="401.1" r="1.4" fill="#5a78c0" fill-opacity="0.31"/>
<circle cx="627.8" cy="376.5" r="1.4" fill="#5a78c0" fill-opacity="0.31"/>
<circle cx="635.5" cy="380.2" r="1.4" fill="#5a78c0" fill-opacity="0.31"/>
<circle cx="612.3" cy="377.4" r="1.4" fill="#5a78c0" fill-opacity="0.31"/>
<circle cx="622.0" cy="358.7" r="1.4" fill="#5a78c0" fill-opacity="0.31"/>
<circle cx="627.2" cy="409.4" r="1.4" fill="#5a78c0" fill-opacity="0.31"/>
<circle cx="641.9" cy="374.9" r="1.4" fill="#5a78c0" fill-opacity="0.31"/>
<circle cx="644.5" cy="385.2" r="1.4" fill="#5a78c0" fill-opacity="0.31"/>
<circle cx="641.1" cy="410.6" r="1.4" fill="#5a78c0" fill-opacity="0.31"/>
<circle cx="632.9" cy="378.5" r="1.4" fill="#5a78c0" fill-opacity="0.31"/>
<circle cx="630.6" cy="429.1" r="1.4" fill="#5a78c0" fill-opacity="0.31"/>
<circle cx="618.3" cy="434.7" r="1.4" fill="#5a78c0" fill-opacity="0.31"/>
<circle cx="631.9" cy="365.5" r="1.4" fill="#5a78c0" fill-opacity="0.31"/>
<circle cx="616.3" cy="423.3" r="1.4" fill="#5a78c0" fill-opacity="0.31"/>
<circle cx="621.1" cy="351.7" r="1.4" fill="#5a78c0" fill-opacity="0.31"/>
<circle cx="639.6" cy="366.3" r="1.4" fill="#5a78c0" fill-opacity="0.31"/>
<circle cx="630.4" cy="405.6" r="1.4" fill="#5a78c0" fill-opacity="0.31"/>
<circle cx="635.9" cy="416.5" r="1.4" fill="#5a78c0" fill-opacity="0.31"/>
<circle cx="626.8" cy="392.1" r="1.4" fill="#5a78c0" fill-opacity="0.31"/>
<circle cx="620.3" cy="439.4" r="1.4" fill="#5a78c0" fill-opacity="0.31"/>
<circle cx="628.1" cy="354.4" r="1.4" fill="#5a78c0" fill-opacity="0.31"/>
<circle cx="630.6" cy="440.9" r="1.4" fill="#5a78c0" fill-opacity="0.31"/>
<circle cx="619.0" cy="388.4" r="1.4" fill="#5a78c0" fill-opacity="0.31"/>
<circle cx="640.1" cy="400.5" r="1.4" fill="#5a78c0" fill-opacity="0.31"/>
<circle cx="644.9" cy="359.9" r="1.4" fill="#5a78c0" fill-opacity="0.31"/>
<circle cx="616.8" cy="403.4" r="1.4" fill="#5a78c0" fill-opacity="0.31"/>
<circle cx="619.0" cy="414.8" r="1.4" fill="#5a78c0" fill-opacity="0.31"/>
<circle cx="638.9" cy="404.4" r="1.4" fill="#5a78c0" fill-opacity="0.31"/>
<circle cx="635.8" cy="381.3" r="1.4" fill="#5a78c0" fill-opacity="0.31"/>
<circle cx="618.4" cy="369.7" r="1.4" fill="#5a78c0" fill-opacity="0.31"/>
<circle cx="631.0" cy="397.1" r="1.4" fill="#5a78c0" fill-opacity="0.31"/>
<circle cx="618.8" cy="382.9" r="1.4" fill="#5a78c0" fill-opacity="0.31"/>
<circle cx="640.7" cy="367.8" r="1.4" fill="#5a78c0" fill-opacity="0.31"/>
<circle cx="631.1" cy="337.8" r="1.4" fill="#5a78c0" fill-opacity="0.31"/>
<circle cx="628.4" cy="386.1" r="1.4" fill="#5a78c0" fill-opacity="0.31"/>
<circle cx="616.1" cy="386.0" r="1.4" fill="#5a78c0" fill-opacity="0.31"/>
<circle cx="624.7" cy="406.4" r="1.4" fill="#5a78c0" fill-opacity="0.31"/>
<circle cx="627.1" cy="372.9" r="1.4" fill="#5a78c0" fill-opacity="0.31"/>
<circle cx="623.2" cy="349.8" r="1.4" fill="#5a78c0" fill-opacity="0.31"/>
<circle cx="616.8" cy="420.3" r="1.4" fill="#5a78c0" fill-opacity="0.31"/>
<circle cx="617.4" cy="388.0" r="1.4" fill="#5a78c0" fill-opacity="0.31"/>
<circle cx="635.0" cy="421.6" r="1.4" fill="#5a78c0" fill-opacity="0.31"/>
<circle cx="642.9" cy="410.9" r="1.4" fill="#5a78c0" fill-opacity="0.31"/>
<circle cx="640.1" cy="395.6" r="1.4" fill="#5a78c0" fill-opacity="0.31"/>
<circle cx="632.0" cy="378.7" r="1.4" fill="#5a78c0" fill-opacity="0.31"/>
<circle cx="638.2" cy="415.4" r="1.4" fill="#5a78c0" fill-opacity="0.31"/>
<circle cx="615.2" cy="398.9" r="1.4" fill="#5a78c0" fill-opacity="0.31"/>
<circle cx="617.8" cy="358.9" r="1.4" fill="#5a78c0" fill-opacity="0.31"/>
<circle cx="635.1" cy="378.4" r="1.4" fill="#5a78c0" fill-opacity="0.31"/>
<circle cx="610.5" cy="374.1" r="1.4" fill="#5a78c0" fill-opacity="0.31"/>
<circle cx="613.4" cy="380.9" r="1.4" fill="#5a78c0" fill-opacity="0.31"/>
<circle cx="637.8" cy="395.7" r="1.4" fill="#5a78c0" fill-opacity="0.31"/>
<circle cx="617.4" cy="380.4" r="1.4" fill="#5a78c0" fill-opacity="0.31"/>
<circle cx="617.0" cy="378.1" r="1.4" fill="#5a78c0" fill-opacity="0.31"/>
<circle cx="624.3" cy="389.9" r="1.4" fill="#5a78c0" fill-opacity="0.31"/>
<circle cx="639.8" cy="366.6" r="1.4" fill="#5a78c0" fill-opacity="0.31"/>
<circle cx="610.8" cy="389.8" r="1.4" fill="#5a78c0" fill-opacity="0.31"/>
<circle cx="641.2" cy="369.4" r="1.4" fill="#5a78c0" fill-opacity="0.31"/>
<circle cx="621.2" cy="389.4" r="1.4" fill="#5a78c0" fill-opacity="0.31"/>
<circle cx="630.5" cy="373.3" r="1.4" fill="#5a78c0" fill-opacity="0.31"/>
<circle cx="627.0" cy="410.5" r="1.4" fill="#5a78c0" fill-opacity="0.31"/>
<circle cx="614.7" cy="407.0" r="1.4" fill="#5a78c0" fill-opacity="0.31"/>
<circle cx="644.1" cy="425.3" r="1.4" fill="#5a78c0" fill-opacity="0.31"/>
<circle cx="616.6" cy="362.6" r="1.4" fill="#5a78c0" fill-opacity="0.31"/>
<circle cx="638.7" cy="378.3" r="1.4" fill="#5a78c0" fill-opacity="0.31"/>
<circle cx="641.3" cy="385.1" r="1.4" fill="#5a78c0" fill-opacity="0.31"/>
<circle cx="626.4" cy="375.8" r="1.4" fill="#5a78c0" fill-opacity="0.31"/>
<circle cx="644.1" cy="415.2" r="1.4" fill="#5a78c0" fill-opacity="0.31"/>
<circle cx="612.7" cy="387.6" r="1.4" fill="#5a78c0" fill-opacity="0.31"/>
<circle cx="615.7" cy="405.4" r="1.4" fill="#5a78c0" fill-opacity="0.31"/>
<circle cx="627.4" cy="446.8" r="1.4" fill="#5a78c0" fill-opacity="0.31"/>
<circle cx="613.1" cy="398.0" r="1.4" fill="#5a78c0" fill-opacity="0.31"/>
<circle cx="638.8" cy="416.5" r="1.4" fill="#5a78c0" fill-opacity="0.31"/>
<circle cx="628.9" cy="357.5" r="1.4" fill="#5a78c0" fill-opacity="0.31"/>
<circle cx="638.5" cy="412.7" r="1.4" fill="#5a78c0" fill-opacity="0.31"/>
<circle cx="620.5" cy="408.8" r="1.4" fill="#5a78c0" fill-opacity="0.31"/>
<circle cx="611.4" cy="367.6" r="1.4" fill="#5a78c0" fill-opacity="0.31"/>
<circle cx="641.7" cy="390.2" r="1.4" fill="#5a78c0" fill-opacity="0.31"/>
<circle cx="617.8" cy="430.6" r="1.4" fill="#5a78c0" fill-opacity="0.31"/>
<circle cx="625.1" cy="384.7" r="1.4" fill="#5a78c0" fill-opacity="0.31"/>
<circle cx="614.9" cy="412.9" r="1.4" fill="#5a78c0" fill-opacity="0.31"/>
<circle cx="631.0" cy="351.1" r="1.4" fill="#5a78c0" fill-opacity="0.31"/>
<circle cx="626.7" cy="422.2" r="1.4" fill="#5a78c0" fill-opacity="0.31"/>
<circle cx="617.4" cy="412.6" r="1.4" fill="#5a78c0" fill-opacity="0.31"/>
<circle cx="611.9" cy="410.5" r="1.4" fill="#5a78c0" fill-opacity="0.31"/>
<circle cx="622.3" cy="347.3" r="1.4" fill="#5a78c0" fill-opacity="0.31"/>
<circle cx="637.9" cy="393.7" r="1.4" fill="#5a78c0" fill-opacity="0.31"/>
<circle cx="615.9" cy="419.2" r="1.4" fill="#5a78c0" fill-opacity="0.31"/>
<circle cx="618.5" cy="383.3" r="1.4" fill="#5a78c0" fill-opacity="0.31"/>
<circle cx="632.2" cy="398.8" r="1.4" fill="#5a78c0" fill-opacity="0.31"/>
<circle cx="632.7" cy="391.2" r="1.4" fill="#5a78c0" fill-opacity="0.31"/>
<circle cx="638.7" cy="333.4" r="1.4" fill="#5a78c0" fill-opacity="0.31"/>
<circle cx="633.1" cy="344.1" r="1.4" fill="#5a78c0" fill-opacity="0.31"/>
<circle cx="640.3" cy="353.6" r="1.4" fill="#5a78c0" fill-opacity="0.31"/>
<circle cx="615.9" cy="352.1" r="1.4" fill="#5a78c0" fill-opacity="0.31"/>
<circle cx="642.8" cy="418.1" r="1.4" fill="#5a78c0" fill-opacity="0.31"/>
<circle cx="611.5" cy="449.6" r="1.4" fill="#5a78c0" fill-opacity="0.31"/>
<circle cx="614.6" cy="373.0" r="1.4" fill="#5a78c0" fill-opacity="0.31"/>
<circle cx="614.1" cy="380.9" r="1.4" fill="#5a78c0" fill-opacity="0.31"/>
<circle cx="637.6" cy="388.9" r="1.4" fill="#5a78c0" fill-opacity="0.31"/>
<circle cx="628.2" cy="393.5" r="1.4" fill="#5a78c0" fill-opacity="0.31"/>
<circle cx="642.8" cy="373.5" r="1.4" fill="#5a78c0" fill-opacity="0.31"/>
<circle cx="644.6" cy="377.0" r="1.4" fill="#5a78c0" fill-opacity="0.31"/>
<circle cx="643.8" cy="383.9" r="1.4" fill="#5a78c0" fill-opacity="0.31"/>
<circle cx="632.0" cy="378.7" r="1.4" fill="#5a78c0" fill-opacity="0.31"/>
<circle cx="622.8" cy="396.1" r="1.4" fill="#5a78c0" fill-opacity="0.31"/>
<circle cx="644.0" cy="401.2" r="1.4" fill="#5a78c0" fill-opacity="0.31"/>
<circle cx="636.1" cy="358.2" r="1.4" fill="#5a78c0" fill-opacity="0.31"/>
<circle cx="617.3" cy="397.4" r="1.4" fill="#5a78c0" fill-opacity="0.31"/>
<circle cx="629.9" cy="344.6" r="1.4" fill="#5a78c0" fill-opacity="0.31"/>
<circle cx="611.2" cy="375.2" r="1.4" fill="#5a78c0" fill-opacity="0.31"/>
<circle cx="611.1" cy="388.4" r="1.4" fill="#5a78c0" fill-opacity="0.31"/>
<circle cx="632.9" cy="364.4" r="1.4" fill="#5a78c0" fill-opacity="0.31"/>
<circle cx="635.7" cy="404.9" r="1.4" fill="#5a78c0" fill-opacity="0.31"/>
<circle cx="640.7" cy="395.6" r="1.4" fill="#5a78c0" fill-opacity="0.31"/>
<circle cx="636.9" cy="400.3" r="1.4" fill="#5a78c0" fill-opacity="0.31"/>
<circle cx="615.3" cy="389.9" r="1.4" fill="#5a78c0" fill-opacity="0.31"/>
<circle cx="636.3" cy="374.3" r="1.4" fill="#5a78c0" fill-opacity="0.31"/>
<circle cx="644.9" cy="342.6" r="1.4" fill="#5a78c0" fill-opacity="0.31"/>
<circle cx="634.2" cy="378.0" r="1.4" fill="#5a78c0" fill-opacity="0.31"/>
<circle cx="627.3" cy="422.4" r="1.4" fill="#5a78c0" fill-opacity="0.31"/>
<circle cx="620.8" cy="415.0" r="1.4" fill="#5a78c0" fill-opacity="0.31"/>
<circle cx="612.7" cy="445.1" r="1.4" fill="#5a78c0" fill-opacity="0.31"/>
<circle cx="632.4" cy="373.3" r="1.4" fill="#5a78c0" fill-opacity="0.31"/>
<circle cx="644.2" cy="369.9" r="1.4" fill="#5a78c0" fill-opacity="0.31"/>
<circle cx="614.5" cy="382.3" r="1.4" fill="#5a78c0" fill-opacity="0.31"/>
<circle cx="639.2" cy="381.6" r="1.4" fill="#5a78c0" fill-opacity="0.31"/>
<circle cx="641.9" cy="377.9" r="1.4" fill="#5a78c0" fill-opacity="0.31"/>
<circle cx="622.8" cy="380.1" r="1.4" fill="#5a78c0" fill-opacity="0.31"/>
<circle cx="640.1" cy="375.2" r="1.4" fill="#5a78c0" fill-opacity="0.31"/>
<circle cx="615.9" cy="384.7" r="1.4" fill="#5a78c0" fill-opacity="0.31"/>
<circle cx="621.0" cy="419.9" r="1.4" fill="#5a78c0" fill-opacity="0.31"/>
<circle cx="630.3" cy="368.4" r="1.4" fill="#5a78c0" fill-opacity="0.31"/>
<circle cx="641.3" cy="359.5" r="1.4" fill="#5a78c0" fill-opacity="0.31"/>
<circle cx="629.3" cy="439.9" r="1.4" fill="#5a78c0" fill-opacity="0.31"/>
<circle cx="613.6" cy="396.9" r="1.4" fill="#5a78c0" fill-opacity="0.31"/>
<circle cx="643.1" cy="424.5" r="1.4" fill="#5a78c0" fill-opacity="0.31"/>
<circle cx="630.5" cy="378.3" r="1.4" fill="#5a78c0" fill-opacity="0.31"/>
<circle cx="637.8" cy="398.6" r="1.4" fill="#5a78c0" fill-opacity="0.31"/>
<circle cx="618.5" cy="357.5" r="1.4" fill="#5a78c0" fill-opacity="0.31"/>
<circle cx="622.2" cy="364.6" r="1.4" fill="#5a78c0" fill-opacity="0.31"/>
<circle cx="613.6" cy="404.0" r="1.4" fill="#5a78c0" fill-opacity="0.31"/>
<circle cx="617.0" cy="404.4" r="1.4" fill="#5a78c0" fill-opacity="0.31"/>
<circle cx="625.8" cy="407.7" r="1.4" fill="#5a78c0" fill-opacity="0.31"/>
<circle cx="624.9" cy="376.8" r="1.4" fill="#5a78c0" fill-opacity="0.31"/>
<circle cx="633.5" cy="418.3" r="1.4" fill="#5a78c0" fill-opacity="0.31"/>
<circle cx="639.7" cy="379.9" r="1.4" fill="#5a78c0" fill-opacity="0.31"/>
<circle cx="622.2" cy="432.5" r="1.4" fill="#5a78c0" fill-opacity="0.31"/>
<circle cx="642.9" cy="366.1" r="1.4" fill="#5a78c0" fill-opacity="0.31"/>
<circle cx="633.4" cy="379.0" r="1.4" fill="#5a78c0" fill-opacity="0.31"/>
<circle cx="622.6" cy="425.3" r="1.4" fill="#5a78c0" fill-opacity="0.31"/>
<circle cx="617.0" cy="413.8" r="1.4" fill="#5a78c0" fill-opacity="0.31"/>
<circle cx="644.0" cy="386.7" r="1.4" fill="#5a78c0" fill-opacity="0.31"/>
<circle cx="633.5" cy="383.5" r="1.4" fill="#5a78c0" fill-opacity="0.31"/>
<circle cx="612.0" cy="385.2" r="1.4" fill="#5a78c0" fill-opacity="0.31"/>
<circle cx="634.5" cy="355.5" r="1.4" fill="#5a78c0" fill-opacity="0.31"/>
<circle cx="623.7" cy="403.5" r="1.4" fill="#5a78c0" fill-opacity="0.31"/>
<circle cx="625.2" cy="431.2" r="1.4" fill="#5a78c0" fill-opacity="0.31"/>
<circle cx="637.3" cy="362.2" r="1.4" fill="#5a78c0" fill-opacity="0.31"/>
<circle cx="618.3" cy="384.4" r="1.4" fill="#5a78c0" fill-opacity="0.31"/>
<circle cx="619.9" cy="385.4" r="1.4" fill="#5a78c0" fill-opacity="0.31"/>
<circle cx="629.4" cy="375.8" r="1.4" fill="#5a78c0" fill-opacity="0.31"/>
<circle cx="642.2" cy="427.4" r="1.4" fill="#5a78c0" fill-opacity="0.31"/>
<circle cx="613.5" cy="410.4" r="1.4" fill="#5a78c0" fill-opacity="0.31"/>
<circle cx="639.7" cy="424.4" r="1.4" fill="#5a78c0" fill-opacity="0.31"/>
<circle cx="635.7" cy="424.6" r="1.4" fill="#5a78c0" fill-opacity="0.31"/>
<circle cx="616.7" cy="399.7" r="1.4" fill="#5a78c0" fill-opacity="0.31"/>
<circle cx="633.7" cy="422.1" r="1.4" fill="#5a78c0" fill-opacity="0.31"/>
<circle cx="632.2" cy="353.3" r="1.4" fill="#5a78c0" fill-opacity="0.31"/>
<circle cx="635.3" cy="378.5" r="1.4" fill="#5a78c0" fill-opacity="0.31"/>
<circle cx="629.3" cy="371.1" r="1.4" fill="#5a78c0" fill-opacity="0.31"/>
<circle cx="621.5" cy="440.5" r="1.4" fill="#5a78c0" fill-opacity="0.31"/>
<circle cx="628.1" cy="396.5" r="1.4" fill="#5a78c0" fill-opacity="0.31"/>
<circle cx="618.8" cy="394.6" r="1.4" fill="#5a78c0" fill-opacity="0.31"/>
<circle cx="626.4" cy="386.2" r="1.4" fill="#5a78c0" fill-opacity="0.31"/>
<circle cx="624.7" cy="379.7" r="1.4" fill="#5a78c0" fill-opacity="0.31"/>
<circle cx="614.2" cy="414.3" r="1.4" fill="#5a78c0" fill-opacity="0.31"/>
<circle cx="618.6" cy="417.9" r="1.4" fill="#5a78c0" fill-opacity="0.31"/>
<circle cx="622.5" cy="368.2" r="1.4" fill="#5a78c0" fill-opacity="0.31"/>
<circle cx="624.3" cy="338.7" r="1.4" fill="#5a78c0" fill-opacity="0.31"/>
<circle cx="630.2" cy="342.7" r="1.4" fill="#5a78c0" fill-opacity="0.31"/>
<circle cx="636.6" cy="398.6" r="1.4" fill="#5a78c0" fill-opacity="0.31"/>
<circle cx="619.6" cy="413.9" r="1.4" fill="#5a78c0" fill-opacity="0.31"/>
<circle cx="629.9" cy="385.6" r="1.4" fill="#5a78c0" fill-opacity="0.31"/>
<circle cx="622.3" cy="379.2" r="1.4" fill="#5a78c0" fill-opacity="0.31"/>
<circle cx="618.4" cy="349.8" r="1.4" fill="#5a78c0" fill-opacity="0.31"/>
<circle cx="615.4" cy="397.0" r="1.4" fill="#5a78c0" fill-opacity="0.31"/>
<circle cx="644.1" cy="412.7" r="1.4" fill="#5a78c0" fill-opacity="0.31"/>
<circle cx="643.1" cy="366.2" r="1.4" fill="#5a78c0" fill-opacity="0.31"/>
<circle cx="639.6" cy="412.0" r="1.4" fill="#5a78c0" fill-opacity="0.31"/>
<circle cx="616.5" cy="416.1" r="1.4" fill="#5a78c0" fill-opacity="0.31"/>
<circle cx="615.8" cy="377.8" r="1.4" fill="#5a78c0" fill-opacity="0.31"/>
<circle cx="614.1" cy="395.8" r="1.4" fill="#5a78c0" fill-opacity="0.31"/>
<circle cx="621.0" cy="422.1" r="1.4" fill="#5a78c0" fill-opacity="0.31"/>
<circle cx="625.4" cy="398.0" r="1.4" fill="#5a78c0" fill-opacity="0.31"/>
<circle cx="610.7" cy="402.6" r="1.4" fill="#5a78c0" fill-opacity="0.31"/>
<circle cx="625.3" cy="396.8" r="1.4" fill="#5a78c0" fill-opacity="0.31"/>
<circle cx="634.6" cy="412.5" r="1.4" fill="#5a78c0" fill-opacity="0.31"/>
<circle cx="639.7" cy="376.7" r="1.4" fill="#5a78c0" fill-opacity="0.31"/>
<circle cx="617.1" cy="400.8" r="1.4" fill="#5a78c0" fill-opacity="0.31"/>
<circle cx="610.5" cy="408.3" r="1.4" fill="#5a78c0" fill-opacity="0.31"/>
<circle cx="638.3" cy="365.9" r="1.4" fill="#5a78c0" fill-opacity="0.31"/>
<circle cx="623.8" cy="418.2" r="1.4" fill="#5a78c0" fill-opacity="0.31"/>
<circle cx="621.5" cy="372.8" r="1.4" fill="#5a78c0" fill-opacity="0.31"/>
<circle cx="615.9" cy="376.6" r="1.4" fill="#5a78c0" fill-opacity="0.31"/>
<circle cx="619.9" cy="399.0" r="1.4" fill="#5a78c0" fill-opacity="0.31"/>
<circle cx="619.8" cy="385.0" r="1.4" fill="#5a78c0" fill-opacity="0.31"/>
<circle cx="619.5" cy="435.2" r="1.4" fill="#5a78c0" fill-opacity="0.31"/>
<circle cx="618.6" cy="384.3" r="1.4" fill="#5a78c0" fill-opacity="0.31"/>
<circle cx="628.6" cy="421.4" r="1.4" fill="#5a78c0" fill-opacity="0.31"/>
<circle cx="639.0" cy="416.1" r="1.4" fill="#5a78c0" fill-opacity="0.31"/>
<circle cx="621.3" cy="384.0" r="1.4" fill="#5a78c0" fill-opacity="0.31"/>
<circle cx="625.1" cy="412.3" r="1.4" fill="#5a78c0" fill-opacity="0.31"/>
<circle cx="627.4" cy="386.9" r="1.4" fill="#5a78c0" fill-opacity="0.31"/>
<circle cx="640.0" cy="380.6" r="1.4" fill="#5a78c0" fill-opacity="0.31"/>
<circle cx="637.3" cy="366.3" r="1.4" fill="#5a78c0" fill-opacity="0.31"/>
<circle cx="645.0" cy="380.9" r="1.4" fill="#5a78c0" fill-opacity="0.31"/>
<circle cx="616.5" cy="366.4" r="1.4" fill="#5a78c0" fill-opacity="0.31"/>
<circle cx="638.7" cy="412.7" r="1.4" fill="#5a78c0" fill-opacity="0.31"/>
<circle cx="620.8" cy="401.2" r="1.4" fill="#5a78c0" fill-opacity="0.31"/>
<circle cx="630.7" cy="375.3" r="1.4" fill="#5a78c0" fill-opacity="0.31"/>
<circle cx="629.0" cy="363.2" r="1.4" fill="#5a78c0" fill-opacity="0.31"/>
<circle cx="630.6" cy="379.7" r="1.4" fill="#5a78c0" fill-opacity="0.31"/>
<circle cx="621.8" cy="406.0" r="1.4" fill="#5a78c0" fill-opacity="0.31"/>
<circle cx="613.0" cy="422.4" r="1.4" fill="#5a78c0" fill-opacity="0.31"/>
<circle cx="610.8" cy="418.8" r="1.4" fill="#5a78c0" fill-opacity="0.31"/>
<circle cx="643.0" cy="364.6" r="1.4" fill="#5a78c0" fill-opacity="0.31"/>
<circle cx="641.5" cy="419.6" r="1.4" fill="#5a78c0" fill-opacity="0.31"/>
<circle cx="626.6" cy="397.0" r="1.4" fill="#5a78c0" fill-opacity="0.31"/>
<circle cx="613.6" cy="375.6" r="1.4" fill="#5a78c0" fill-opacity="0.31"/>
<circle cx="639.8" cy="380.0" r="1.4" fill="#5a78c0" fill-opacity="0.31"/>
<circle cx="628.1" cy="411.2" r="1.4" fill="#5a78c0" fill-opacity="0.31"/>
<circle cx="627.0" cy="345.1" r="1.4" fill="#5a78c0" fill-opacity="0.31"/>
<circle cx="632.9" cy="386.2" r="1.4" fill="#5a78c0" fill-opacity="0.31"/>
<circle cx="616.0" cy="383.6" r="1.4" fill="#5a78c0" fill-opacity="0.31"/>
<circle cx="618.1" cy="371.6" r="1.4" fill="#5a78c0" fill-opacity="0.31"/>
<circle cx="639.0" cy="399.4" r="1.4" fill="#5a78c0" fill-opacity="0.31"/>
<circle cx="636.2" cy="374.3" r="1.4" fill="#5a78c0" fill-opacity="0.31"/>
<circle cx="645.0" cy="394.2" r="1.4" fill="#5a78c0" fill-opacity="0.31"/>
<circle cx="625.7" cy="416.7" r="1.4" fill="#5a78c0" fill-opacity="0.31"/>
<circle cx="644.5" cy="418.7" r="1.4" fill="#5a78c0" fill-opacity="0.31"/>
<circle cx="641.6" cy="381.3" r="1.4" fill="#5a78c0" fill-opacity="0.31"/>
<circle cx="628.3" cy="387.6" r="1.4" fill="#5a78c0" fill-opacity="0.31"/>
<circle cx="641.7" cy="394.7" r="1.4" fill="#5a78c0" fill-opacity="0.31"/>
<circle cx="616.2" cy="403.7" r="1.4" fill="#5a78c0" fill-opacity="0.31"/>
<circle cx="612.9" cy="397.4" r="1.4" fill="#5a78c0" fill-opacity="0.31"/>
<circle cx="639.0" cy="372.0" r="1.4" fill="#5a78c0" fill-opacity="0.31"/>
<circle cx="615.4" cy="365.2" r="1.4" fill="#5a78c0" fill-opacity="0.31"/>
<circle cx="628.5" cy="397.5" r="1.4" fill="#5a78c0" fill-opacity="0.31"/>
<circle cx="636.3" cy="384.0" r="1.4" fill="#5a78c0" fill-opacity="0.31"/>
<circle cx="634.3" cy="446.0" r="1.4" fill="#5a78c0" fill-opacity="0.31"/>
<circle cx="618.2" cy="424.5" r="1.4" fill="#5a78c0" fill-opacity="0.31"/>
<circle cx="638.1" cy="411.1" r="1.4" fill="#5a78c0" fill-opacity="0.31"/>
<circle cx="612.0" cy="417.3" r="1.4" fill="#5a78c0" fill-opacity="0.31"/>
<circle cx="630.2" cy="374.3" r="1.4" fill="#5a78c0" fill-opacity="0.31"/>
<circle cx="641.9" cy="378.9" r="1.4" fill="#5a78c0" fill-opacity="0.31"/>
<circle cx="629.6" cy="374.5" r="1.4" fill="#5a78c0" fill-opacity="0.31"/>
<circle cx="621.1" cy="340.4" r="1.4" fill="#5a78c0" fill-opacity="0.31"/>
<circle cx="645.4" cy="404.7" r="1.4" fill="#5a78c0" fill-opacity="0.31"/>
<circle cx="635.9" cy="379.7" r="1.4" fill="#5a78c0" fill-opacity="0.31"/>
<circle cx="638.2" cy="356.7" r="1.4" fill="#5a78c0" fill-opacity="0.31"/>
<circle cx="641.9" cy="368.9" r="1.4" fill="#5a78c0" fill-opacity="0.31"/>
<circle cx="643.2" cy="418.1" r="1.4" fill="#5a78c0" fill-opacity="0.31"/>
<circle cx="630.6" cy="400.5" r="1.4" fill="#5a78c0" fill-opacity="0.31"/>
<circle cx="639.4" cy="424.5" r="1.4" fill="#5a78c0" fill-opacity="0.31"/>
<circle cx="628.1" cy="388.3" r="1.4" fill="#5a78c0" fill-opacity="0.31"/>
<circle cx="619.4" cy="374.5" r="1.4" fill="#5a78c0" fill-opacity="0.31"/>
<circle cx="620.2" cy="459.0" r="1.4" fill="#5a78c0" fill-opacity="0.31"/>
<circle cx="619.7" cy="477.4" r="1.4" fill="#5a78c0" fill-opacity="0.31"/>
<circle cx="611.4" cy="328.5" r="1.4" fill="#5a78c0" fill-opacity="0.31"/>
<circle cx="632.2" cy="327.0" r="1.4" fill="#5a78c0" fill-opacity="0.31"/>
<path d="M452.8 306.4 V301.1 H628.0 V306.4" fill="none" stroke="#222" stroke-width="1.1"/>
<text x="543.0" y="298.0" font-size="7.5" fill="#222" text-anchor="middle">p&lt;2.22e-16</text>
<path d="M540.4 326.6 V321.2 H628.0 V326.6" fill="none" stroke="#222" stroke-width="1.1"/>
<text x="585.5" y="317.4" font-size="7.5" fill="#222" text-anchor="middle">3.1e-10</text>
<path d="M452.8 345.4 V339.8 H540.4 V345.4" fill="none" stroke="#222" stroke-width="1.1"/>
<text x="498.7" y="336.5" font-size="7.5" fill="#222" text-anchor="middle">1.3e-08</text>
<rect x="396.4" y="277.5" width="288.0" height="209.3" fill="none" stroke="#222" stroke-width="1.2"/>
<line x1="394.79999999999995" x2="396.4" y1="293.2" y2="293.2" stroke="#222" stroke-width="1.1"/>
<text x="391.4" y="296.75" font-size="9.9" fill="#222" text-anchor="end">1.6</text>
<line x1="394.79999999999995" x2="396.4" y1="354.6" y2="354.6" stroke="#222" stroke-width="1.1"/>
<text x="391.4" y="358.15000000000003" font-size="9.9" fill="#222" text-anchor="end">1.2</text>
<line x1="394.79999999999995" x2="396.4" y1="416.0" y2="416.0" stroke="#222" stroke-width="1.1"/>
<text x="391.4" y="419.55" font-size="9.9" fill="#222" text-anchor="end">0.8</text>
<line x1="394.79999999999995" x2="396.4" y1="477.4" y2="477.4" stroke="#222" stroke-width="1.1"/>
<text x="391.4" y="480.95" font-size="9.9" fill="#222" text-anchor="end">0.4</text>
<line x1="452.8" x2="452.8" y1="486.8" y2="488.6" stroke="#222" stroke-width="1.1"/>
<line x1="540.4" x2="540.4" y1="486.8" y2="488.6" stroke="#222" stroke-width="1.1"/>
<line x1="628.0" x2="628.0" y1="486.8" y2="488.6" stroke="#222" stroke-width="1.1"/>
<text x="452.8" y="501.5" font-size="9.0" fill="#222" text-anchor="middle">LOI</text>
<text x="452.8" y="511.9" font-size="9.0" fill="#222" text-anchor="middle">(Diagnostic CAG)</text>
<text x="452.8" y="522.3" font-size="9.0" fill="#222" text-anchor="middle">(n=49)</text>
<text x="540.4" y="501.5" font-size="9.0" fill="#222" text-anchor="middle">LOI</text>
<text x="540.4" y="511.9" font-size="9.0" fill="#222" text-anchor="middle">(Uninterrupted CAG)</text>
<text x="540.4" y="522.3" font-size="9.0" fill="#222" text-anchor="middle">(n=49)</text>
<text x="628.0" y="501.5" font-size="9.0" fill="#222" text-anchor="middle">Non-LOI</text>
<text x="628.0" y="511.9" font-size="9.0" fill="#222" text-anchor="middle">(n=473)</text>
<text x="538.4" y="540.6" font-size="10.4" fill="#111" text-anchor="middle">Carrier status</text>
<text x="0" y="0" font-size="9.95" fill="#111" text-anchor="middle" transform="translate(366.9,381.9) rotate(-90)">Age of onset ratio</text>
<text x="358.2" y="278.6" font-size="16" fill="#000" text-anchor="start" font-weight="bold">d</text>
<text x="122.3" y="570.9" font-size="16" fill="#000" text-anchor="start" font-weight="bold">e</text>
<line x1="157.2" x2="626.7" y1="593.4" y2="593.4" stroke="#f4f4f4" stroke-width="0.9"/>
<line x1="157.2" x2="626.7" y1="653.3" y2="653.3" stroke="#f4f4f4" stroke-width="0.9"/>
<line x1="157.2" x2="626.7" y1="713.2" y2="713.2" stroke="#f4f4f4" stroke-width="0.9"/>
<line x1="157.2" x2="626.7" y1="773.1" y2="773.1" stroke="#f4f4f4" stroke-width="0.9"/>
<line x1="223.7" x2="223.7" y1="567.7" y2="801.0" stroke="#f4f4f4" stroke-width="0.9"/>
<line x1="376.6" x2="376.6" y1="567.7" y2="801.0" stroke="#f4f4f4" stroke-width="0.9"/>
<line x1="529.5" x2="529.5" y1="567.7" y2="801.0" stroke="#f4f4f4" stroke-width="0.9"/>
<line x1="157.2" x2="626.7" y1="623.4" y2="623.4" stroke="#ebebeb" stroke-width="1.1"/>
<line x1="157.2" x2="626.7" y1="683.3" y2="683.3" stroke="#ebebeb" stroke-width="1.1"/>
<line x1="157.2" x2="626.7" y1="743.2" y2="743.2" stroke="#ebebeb" stroke-width="1.1"/>
<line x1="300.1" x2="300.1" y1="567.7" y2="801.0" stroke="#ebebeb" stroke-width="1.1"/>
<line x1="453.0" x2="453.0" y1="567.7" y2="801.0" stroke="#ebebeb" stroke-width="1.1"/>
<line x1="605.9" x2="605.9" y1="567.7" y2="801.0" stroke="#ebebeb" stroke-width="1.1"/>
<polyline points="177.8,577.8 208.4,607.7 238.9,633.7 269.5,656.0 300.1,675.4 330.7,692.1 361.3,706.6 391.8,719.1 422.4,729.8 453.0,739.2 483.6,747.2 514.2,754.2 544.7,760.2 575.3,765.4 605.9,769.9" fill="none" stroke="#3f58a8" stroke-width="1.6"/>
<polyline points="177.8,633.7 208.4,656.0 238.9,675.4 269.5,692.1 300.1,706.6 330.7,719.1 361.3,729.8 391.8,739.2 422.4,747.2 453.0,754.2 483.6,760.2 514.2,765.4 544.7,769.9 575.3,773.8 605.9,777.1" fill="none" stroke="#f7a823" stroke-width="1.6"/>
<polyline points="177.8,661.2 185.4,668.1 193.1,674.7 200.7,680.9 208.4,686.8 216.0,692.3 223.7,697.6 231.3,702.7 238.9,707.5 246.6,712.0 254.2,716.3 261.9,720.4 269.5,724.2 277.2,727.9 284.8,731.4 292.5,734.7 300.1,737.8 307.7,740.8 315.4,743.7 323.0,746.4 330.7,749.0 338.3,751.4 346.0,753.7 353.6,755.9 361.3,758.0 368.9,760.0 376.6,761.9 384.2,763.7 391.8,765.4 399.5,767.0 407.1,768.5 414.8,770.0 422.4,771.4 430.1,772.7 437.7,773.9 445.4,775.1 453.0,776.2 460.6,777.3 468.3,778.3 475.9,779.2 483.6,780.1 491.2,781.0 498.9,781.8 506.5,782.6 514.2,783.3 521.8,784.0 529.5,784.7 537.1,785.3 544.7,785.9 552.4,786.5 560.0,787.0 567.7,787.5 575.3,788.0 583.0,788.5 590.6,788.9 598.3,789.3 605.9,789.7" fill="none" stroke="#e8553f" stroke-width="1.8" stroke-dasharray="12.6 12.9"/>
<circle cx="177.8" cy="632.4" r="1.6" fill="#ea5a45"/>
<circle cx="177.8" cy="638.4" r="1.6" fill="#ea5a45"/>
<circle cx="177.8" cy="668.3" r="1.6" fill="#ea5a45"/>
<circle cx="208.4" cy="659.3" r="1.6" fill="#ea5a45"/>
<circle cx="208.4" cy="683.3" r="1.6" fill="#ea5a45"/>
<circle cx="208.4" cy="686.3" r="1.6" fill="#ea5a45"/>
<circle cx="208.4" cy="698.3" r="1.6" fill="#ea5a45"/>
<circle cx="208.4" cy="701.3" r="1.6" fill="#ea5a45"/>
<circle cx="208.4" cy="731.2" r="1.6" fill="#ea5a45"/>
<circle cx="238.9" cy="713.2" r="1.6" fill="#ea5a45"/>
<circle cx="238.9" cy="728.2" r="1.6" fill="#ea5a45"/>
<circle cx="238.9" cy="737.2" r="1.6" fill="#ea5a45"/>
<circle cx="269.5" cy="689.3" r="1.6" fill="#ea5a45"/>
<circle cx="269.5" cy="704.3" r="1.6" fill="#ea5a45"/>
<circle cx="269.5" cy="734.2" r="1.6" fill="#ea5a45"/>
<circle cx="300.1" cy="713.2" r="1.6" fill="#ea5a45"/>
<circle cx="300.1" cy="717.7" r="1.6" fill="#ea5a45"/>
<circle cx="300.1" cy="722.2" r="1.6" fill="#ea5a45"/>
<circle cx="300.1" cy="731.2" r="1.6" fill="#ea5a45"/>
<circle cx="300.1" cy="737.2" r="1.6" fill="#ea5a45"/>
<circle cx="300.1" cy="740.2" r="1.6" fill="#ea5a45"/>
<circle cx="300.1" cy="752.2" r="1.6" fill="#ea5a45"/>
<circle cx="330.7" cy="728.2" r="1.6" fill="#ea5a45"/>
<circle cx="330.7" cy="731.2" r="1.6" fill="#ea5a45"/>
<circle cx="330.7" cy="743.2" r="1.6" fill="#ea5a45"/>
<circle cx="330.7" cy="749.2" r="1.6" fill="#ea5a45"/>
<circle cx="330.7" cy="761.2" r="1.6" fill="#ea5a45"/>
<circle cx="330.7" cy="767.2" r="1.6" fill="#ea5a45"/>
<circle cx="361.3" cy="749.2" r="1.6" fill="#ea5a45"/>
<circle cx="361.3" cy="758.2" r="1.6" fill="#ea5a45"/>
<circle cx="361.3" cy="764.2" r="1.6" fill="#ea5a45"/>
<circle cx="361.3" cy="779.1" r="1.6" fill="#ea5a45"/>
<circle cx="391.8" cy="761.2" r="1.6" fill="#ea5a45"/>
<circle cx="391.8" cy="773.1" r="1.6" fill="#ea5a45"/>
<circle cx="391.8" cy="785.1" r="1.6" fill="#ea5a45"/>
<circle cx="422.4" cy="746.2" r="1.6" fill="#ea5a45"/>
<circle cx="453.0" cy="773.1" r="1.6" fill="#ea5a45"/>
<circle cx="453.0" cy="779.1" r="1.6" fill="#ea5a45"/>
<circle cx="453.0" cy="785.1" r="1.6" fill="#ea5a45"/>
<circle cx="483.6" cy="776.1" r="1.6" fill="#ea5a45"/>
<circle cx="483.6" cy="791.1" r="1.6" fill="#ea5a45"/>
<circle cx="605.9" cy="791.1" r="1.6" fill="#ea5a45"/>
<rect x="157.2" y="567.7" width="469.50000000000006" height="233.29999999999995" fill="none" stroke="#333" stroke-width="1.1"/>
<line x1="155.6" x2="157.2" y1="623.4" y2="623.4" stroke="#222" stroke-width="1.1"/>
<text x="150.4" y="626.9499999999999" font-size="9.9" fill="#222" text-anchor="end">80</text>
<line x1="155.6" x2="157.2" y1="683.3" y2="683.3" stroke="#222" stroke-width="1.1"/>
<text x="150.4" y="686.8499999999999" font-size="9.9" fill="#222" text-anchor="end">60</text>
<line x1="155.6" x2="157.2" y1="743.2" y2="743.2" stroke="#222" stroke-width="1.1"/>
<text x="150.4" y="746.7499999999999" font-size="9.9" fill="#222" text-anchor="end">40</text>
<line x1="300.1" x2="300.1" y1="801.0" y2="802.8" stroke="#222" stroke-width="1.1"/>
<text x="299.4" y="816.0" font-size="10.2" fill="#222" text-anchor="middle">40</text>
<line x1="453.0" x2="453.0" y1="801.0" y2="802.8" stroke="#222" stroke-width="1.1"/>
<text x="452.3" y="816.0" font-size="10.2" fill="#222" text-anchor="middle">45</text>
<line x1="605.9" x2="605.9" y1="801.0" y2="802.8" stroke="#222" stroke-width="1.1"/>
<text x="605.2" y="816.0" font-size="10.2" fill="#222" text-anchor="middle">50</text>
<text x="386.6" y="831.7" font-size="10.0" fill="#111" text-anchor="middle">Diagnostic CAG size</text>
<text x="0" y="0" font-size="10.4" fill="#111" text-anchor="middle" transform="translate(128.9,684.35) rotate(-90)">Actual age of onset</text>
<rect x="165.2" y="844.1" width="5.8" height="5.8" fill="#ea5a45"/>
<text x="175.5" y="850.0" font-size="9.2" fill="#111" text-anchor="start">LOI patient onsets</text>
<rect x="284.5" y="844.1" width="5.8" height="5.8" fill="#3f58a8"/>
<text x="295.2" y="850.0" font-size="9.2" fill="#111" text-anchor="start">Predicted age of onset, diagnostic</text>
<rect x="463.0" y="844.1" width="5.8" height="5.8" fill="#f7a823"/>
<text x="473.3" y="850.0" font-size="9.2" fill="#111" text-anchor="start">Predicted age of onset, uninterrupted</text>
</svg>
</body></html>
